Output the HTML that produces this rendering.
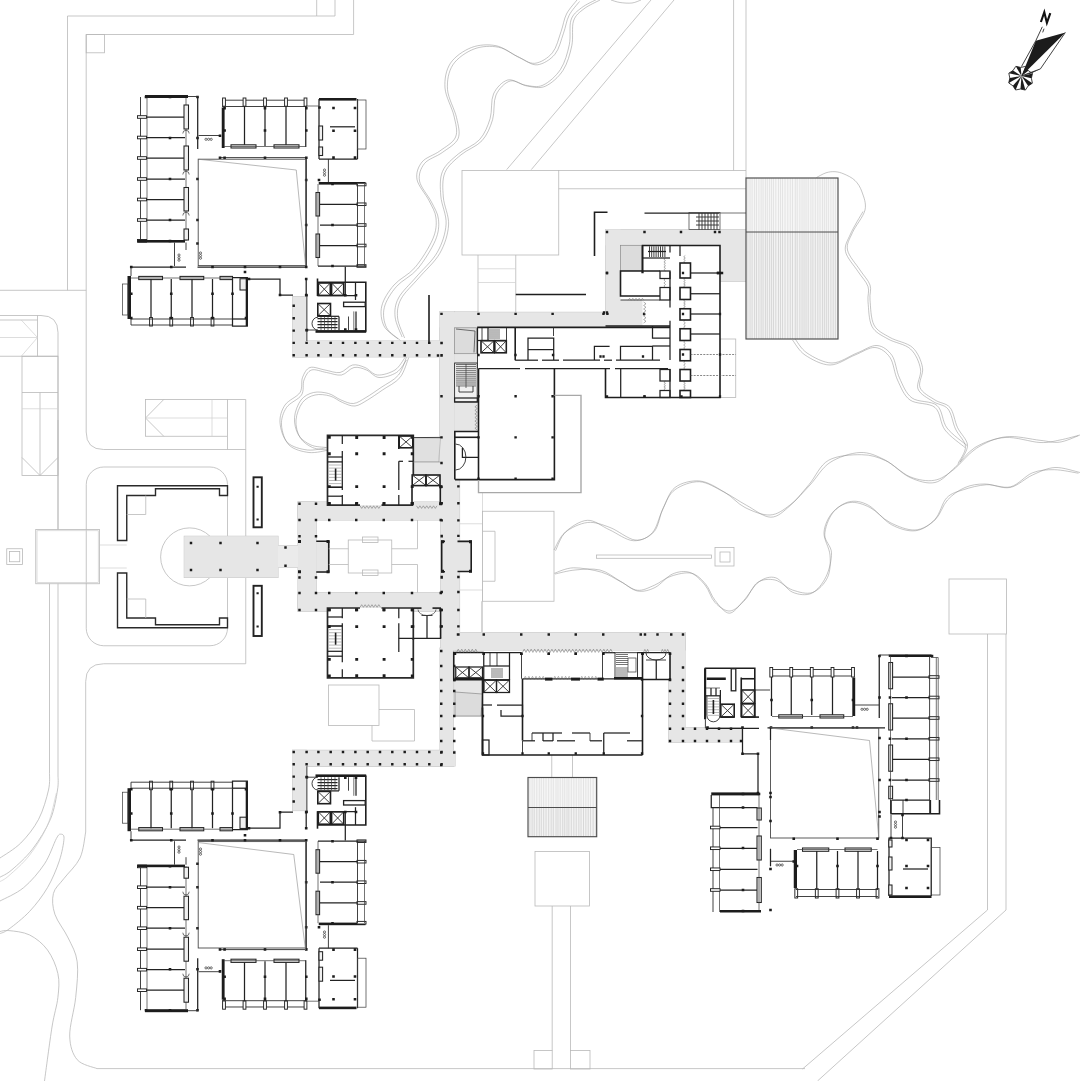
<!DOCTYPE html>
<html><head><meta charset="utf-8"><title>Plan</title><style>
html,body{margin:0;padding:0;background:#fff}
svg{display:block}
.w{stroke:#222;stroke-width:1.25;fill:none}
.w2{stroke:#1e1e1e;stroke-width:1.6;fill:none}
.w2h{stroke:#2a2a2a;stroke-width:1.7;fill:none}
.wf{stroke:#1e1e1e;stroke-width:1.6;fill:#fff}
.wf2{stroke:#2a2a2a;stroke-width:1.4;fill:#fff}
.wf3{stroke:#222;stroke-width:1.9;fill:#fff}
.wfn{stroke:none;fill:#fff}
.stf{fill:#f1f1f1;stroke:none}
.wfn0{stroke:none;fill:none}
.t{stroke:#2c2c2c;stroke-width:.9;fill:none}
.t2{stroke:#3e3e3e;stroke-width:.72;fill:none}
.t3{stroke:#8a8a8a;stroke-width:.6;fill:none}
.cy{stroke:#4a4a4a;stroke-width:.9;fill:none}
.s{stroke:#b9b9b9;stroke-width:.8;fill:none}
.s2{stroke:#cfcfcf;stroke-width:.7;fill:none}
.r{stroke:#8c8c8c;stroke-width:.5;fill:none}
.g{fill:#e6e6e6;stroke:none}
.go{fill:#e6e6e6;stroke:#c6c6c6;stroke-width:1}
.g2{fill:#ebebeb;stroke:none}
.gb{fill:#dcdcdc;stroke:#8a8a8a;stroke-width:.7}
.gb2{fill:#e0e0e0;stroke:#aaa;stroke-width:.6}
.gl{stroke:#a8a8a8;stroke-width:1.4;fill:none}
.k{fill:#1c1c1c;stroke:none}
.cab2{fill:#fff;stroke:#222;stroke-width:1.3}
.pier{fill:#fff;stroke:#222;stroke-width:.95}
.cab{fill:#f0f0f0;stroke:#222;stroke-width:1.05}
.dsh{stroke:#555;stroke-width:.7;stroke-dasharray:2 1.2;fill:none}
.zg{stroke:#6e6e6e;stroke-width:.55;fill:none}
.zz{stroke:#555;stroke-width:1.2;stroke-dasharray:1 1.6;fill:none}
.hf{fill:#f3f3f3;stroke:none}
.hw{stroke:#4c4c4c;stroke-width:1.15;fill:none}
.hf2{fill:#fff;fill-opacity:.3;stroke:none}
.h1{stroke:#d2d2d2;stroke-width:.85;fill:none}
.h2{stroke:#979797;stroke-width:.5;fill:none}
</style></head><body>
<svg width="1080" height="1081" viewBox="0 0 1080 1081">
<rect width="1080" height="1081" fill="#fff"/>
<path class="s" d="M67.5 290.3L67.5 16L316.7 16L316.7 0"/>
<path class="s" d="M316.7 16L335 16L335 0"/>
<path class="s" d="M353.6 0L353.6 34.5L86.2 34.5L86.2 432"/>
<rect class="s" x="86.2" y="34.5" width="18.3" height="18.3"/>
<path class="s" d="M0 290.3L86.2 290.3"/>
<path class="s" d="M86.2 432Q86.2 449.5 103.7 449.5L245.75 449.5"/>
<path class="s" d="M245.75 399.5L245.75 663.75"/>
<path class="s" d="M0 315.5L41 315.5Q58 315.5 58 332.5L58 529.5"/>
<path class="s" d="M0 320L37.5 320L37.5 356.25"/>
<path class="s" d="M37.5 315.5L37.5 320"/>
<path class="s" d="M0 356.25L58 356.25"/>
<path class="s2" d="M21.25 320L37.5 337.5L21.25 356.25"/>
<path class="s2" d="M0 337.5L37.5 337.5"/>
<rect class="s" x="22" y="356.25" width="36" height="119.25"/>
<path class="s" d="M40 392.5L40 475.5"/>
<path class="s" d="M22 392.5L58 392.5"/>
<path class="s2" d="M22 408.75L58 408.75"/>
<path class="s" d="M22 457.5L40 475.5L58 457.5"/>
<rect class="s" x="145.5" y="399.5" width="82" height="36.75"/>
<path class="s" d="M163.75 399.5L145.5 418L163.75 436.25"/>
<path class="s2" d="M145.5 418L227.5 418"/>
<path class="s2" d="M212 399.5L212 436.25"/>
<path class="s" d="M227.5 399.5L245.75 399.5"/>
<path class="s" d="M227.5 436.25L227.5 449.5"/>
<rect class="s" x="86.25" y="467" width="141.25" height="178.75" rx="17.5" ry="17.5"/>
<path class="s" d="M245.75 663.75L103.7 663.75Q85.7 663.75 85.7 681.5L85.7 832"/>
<rect class="s" x="35.75" y="529.5" width="63.75" height="54.25"/>
<rect class="s2" x="37" y="530.75" width="61.25" height="51.75"/>
<rect class="s" x="6.75" y="548.75" width="15.75" height="15.75"/>
<rect class="s" x="9.5" y="551.5" width="10.25" height="10.25"/>
<path class="s2" d="M100 545L126.75 545"/>
<path class="s2" d="M100 568L126.75 568"/>
<path class="s" d="M58 529.5L58 420"/>
<path class="s" d="M58 583.75L58 775"/>
<path class="s" d="M49.5 583.75L49.5 772"/>
<path class="s" d="M85.7 832C84.75 836.33 83.65 850.22 80 858C76.35 865.78 68.23 872.78 63.8 878.7C59.37 884.62 54.88 887.57 53.4 893.5C51.92 899.43 52.43 906.88 54.9 914.3C57.37 921.72 64.48 930.08 68.2 938C71.92 945.92 75.95 951.9 77.2 961.8C78.45 971.7 76.95 985.03 75.7 997.4C74.45 1009.77 69.45 1025.62 69.7 1036C69.95 1046.38 72.65 1054.27 77.2 1059.7C81.75 1065.13 93.7 1067.12 97 1068.6"/>
<path class="s" d="M97 1068.6L805 1068.6"/>
<path class="s" d="M58 775C57.92 777.5 58.77 782.62 57.5 790C56.23 797.38 54.55 809.47 50.4 819.3C46.25 829.13 39.02 840.58 32.6 849C26.18 857.42 17.33 865.1 11.9 869.8C6.47 874.5 1.98 875.97 0 877.2"/>
<path class="s" d="M49.5 772C49.33 775 50.32 782.12 48.5 790C46.68 797.88 43.22 810.47 38.6 819.3C33.98 828.13 27.23 836.55 20.8 843C14.37 849.45 3.47 855.5 0 858"/>
<path class="s2" d="M56.4 793C54.92 798.38 51.95 814.97 47.5 825.3C43.05 835.63 36.13 846.6 29.7 855C23.27 863.4 13.85 871.27 8.9 875.7C3.95 880.13 1.48 880.62 0 881.6"/>
<path class="s" d="M0 901C3.95 898.77 16.28 893.78 23.7 887.6C31.12 881.42 39.05 872.08 44.5 863.9C49.95 855.72 53.68 843.45 56.4 838.5C59.12 833.55 59.53 834.18 60.8 834.2C62.07 834.22 64.25 834.15 64 838.6C63.75 843.05 62.05 852.73 59.3 860.9C56.55 869.07 52.43 879.2 47.5 887.6C42.57 896 36.13 904.38 29.7 911.3C23.27 918.22 13.85 925.38 8.9 929.1C3.95 932.82 1.48 932.85 0 933.6"/>
<path class="s" d="M0 931.5C1.5 931.35 4.05 930.02 9 930.6C13.95 931.18 23.28 931.77 29.7 935C36.12 938.23 42.8 943.57 47.5 950C52.2 956.43 56.17 965.7 57.9 973.6C59.63 981.5 58.88 988.5 57.9 997.4C56.92 1006.3 54.23 1013.07 52 1027C49.77 1040.93 45.75 1072 44.5 1081"/>
<path class="s" d="M506.7 169.6L651 0"/>
<path class="s" d="M531.3 169.6L674 0"/>
<path class="s" d="M733.6 0L733.6 170.5"/>
<path class="s" d="M746 0L746 178"/>
<rect class="s" x="462" y="170.5" width="96.75" height="84.5"/>
<path class="s" d="M558.75 170.5L746 170.5"/>
<path class="s" d="M558.75 188.75L746 188.75"/>
<path class="s" d="M478 255L478 312.5"/>
<path class="s" d="M515.75 255L515.75 312.5"/>
<path class="s2" d="M478 268.75L515.75 268.75"/>
<path class="s2" d="M478 282.5L515.75 282.5"/>
<path class="s2" d="M458.75 523.75L482.5 523.75"/>
<path class="s2" d="M458.75 590L482.5 590"/>
<path class="s2" d="M482.5 492.5L482.5 632.5"/>
<rect class="s" x="482.5" y="511.25" width="71.5" height="90"/>
<path class="s" d="M482.5 531.25L495 531.25L495 581.25L482.5 581.25"/>
<rect class="s" x="596.5" y="555" width="115" height="3.3"/>
<rect class="s" x="715" y="547.5" width="19" height="18.5"/>
<rect class="s" x="720" y="552" width="10" height="10"/>
<rect class="s" x="949" y="579" width="57.5" height="55"/>
<path class="s" d="M987.5 634L987.5 910L802.5 1069"/>
<path class="s" d="M1006 634L1006 910L817.5 1081"/>
<rect class="s" x="535" y="851.5" width="54.5" height="54.5"/>
<path class="s" d="M552.2 906L552.2 1050.5"/>
<path class="s" d="M570.5 906L570.5 1050.5"/>
<rect class="s" x="534" y="1050.5" width="18.2" height="18.5"/>
<rect class="s" x="570.5" y="1050.5" width="19.5" height="18.5"/>
<path class="s" d="M551.75 755L551.75 777.5"/>
<path class="s" d="M572.5 755L572.5 777.5"/>
<rect class="s" x="328.5" y="685" width="50.5" height="40.5"/>
<path class="s" d="M379 709.5L414.5 709.5L414.5 741L372 741L372 725.5"/>
<path class="s" d="M481.75 601.25L481.75 632.5"/>
<rect class="s" x="720" y="339" width="15.75" height="58.5"/>
<path class="s" d="M210 536.25A29 29 0 1 0 210 577.5"/>
<path class="r" d="M1080 435C1076.67 435.83 1066.67 438.75 1060 440C1053.33 441.25 1049.17 442.92 1040 442.5C1030.83 442.08 1015.83 436.67 1005 437.5C994.17 438.33 983.33 442.5 975 447.5C966.67 452.5 961.67 461.67 955 467.5C948.33 473.33 942.5 480.83 935 482.5C927.5 484.17 918.33 481.25 910 477.5C901.67 473.75 893.33 464.17 885 460C876.67 455.83 869.17 452.08 860 452.5C850.83 452.92 838.33 457.08 830 462.5C821.67 467.92 816.67 477.92 810 485C803.33 492.08 796.67 500 790 505C783.33 510 777.5 514.58 770 515C762.5 515.42 752.5 511.25 745 507.5C737.5 503.75 732.5 496.92 725 492.5C717.5 488.08 708.33 481.83 700 481C691.67 480.17 681.25 482.67 675 487.5C668.75 492.33 666.25 502.5 662.5 510C658.75 517.5 657.08 527.5 652.5 532.5C647.92 537.5 642.08 540.83 635 540C627.92 539.17 617.92 530.42 610 527.5C602.08 524.58 595 521.67 587.5 522.5C580 523.33 570.58 527.92 565 532.5C559.42 537.08 555.83 547.08 554 550"/>
<path class="r" d="M1078.5 435.73C1075.29 436.81 1065.67 441.44 1059.25 442.2C1052.83 442.96 1048.92 441.21 1040 440.3C1031.08 439.39 1016.33 435.44 1005.75 436.77C995.17 438.09 985.21 442.74 976.5 448.23C967.79 453.72 960.54 464.36 953.5 469.7C946.46 475.04 941.5 479.12 934.25 480.3C927 481.48 918.08 480.03 910 476.77C901.92 473.51 893.83 464.41 885.75 460.73C877.67 457.06 871.04 454.77 861.5 454.7C851.96 454.63 837.21 455.37 828.5 460.3C819.79 465.23 815.67 476.69 809.25 484.27C802.83 491.84 796.42 500.24 790 505.73C783.58 511.22 778 517.27 770.75 517.2C763.5 517.13 754.38 509.54 746.5 505.3C738.62 501.06 731.38 495.69 723.5 491.77C715.62 487.84 707.33 482.08 699.25 481.73C691.17 481.39 681 485.36 675 489.7C669 494.04 666.75 500.79 663.25 507.8C659.75 514.81 658.96 526.28 654 531.77C649.04 537.26 640.96 541.08 633.5 540.73C626.04 540.39 616.92 533.11 609.25 529.7C601.58 526.29 594.75 519.96 587.5 520.3C580.25 520.64 571.08 526.69 565.75 531.77C560.42 536.84 557.21 547.57 555.5 550.73"/>
<path class="r" d="M1080 472.5C1075.83 471.67 1062.92 467.08 1055 467.5C1047.08 467.92 1040 471.67 1032.5 475C1025 478.33 1017.92 486 1010 487.5C1002.08 489 992.5 484 985 484C977.5 484 971.25 484.83 965 487.5C958.75 490.17 952.5 494.58 947.5 500C942.5 505.42 940.42 515 935 520C929.58 525 922.5 529.58 915 530C907.5 530.42 897.5 526.25 890 522.5C882.5 518.75 876.67 510.83 870 507.5C863.33 504.17 856.25 501.67 850 502.5C843.75 503.33 836.83 507.5 832.5 512.5C828.17 517.5 824.42 525.42 824 532.5C823.58 539.58 829.42 547.5 830 555C830.58 562.5 830.42 571.25 827.5 577.5C824.58 583.75 818.33 590.42 812.5 592.5C806.67 594.58 798.75 592.08 792.5 590C786.25 587.92 780.83 581.25 775 580C769.17 578.75 762.5 579.17 757.5 582.5C752.5 585.83 749.58 595.25 745 600C740.42 604.75 735 610.58 730 611C725 611.42 719.17 606.83 715 602.5C710.83 598.17 709.17 590 705 585C700.83 580 695.42 574.33 690 572.5C684.58 570.67 678.33 571.5 672.5 574C666.67 576.5 660.83 584.67 655 587.5C649.17 590.33 643.33 592.08 637.5 591C631.67 589.92 626.25 584.5 620 581C613.75 577.5 607.5 571.83 600 570C592.5 568.17 582.5 569.33 575 570C567.5 570.67 558.33 573.33 555 574"/>
<path class="r" d="M1078.5 473.23C1074.46 472.64 1061.92 469.77 1054.25 469.7C1046.58 469.63 1039.75 469.96 1032.5 472.8C1025.25 475.64 1018.42 484.78 1010.75 486.77C1003.08 488.76 994.38 484.24 986.5 484.73C978.62 485.22 970.12 487.52 963.5 489.7C956.88 491.88 951.5 492.87 946.75 497.8C942 502.73 940.17 513.78 935 519.27C929.83 524.76 923 529.83 915.75 530.73C908.5 531.64 899.38 528.94 891.5 524.7C883.62 520.46 875.54 509.12 868.5 505.3C861.46 501.48 855.25 500.44 849.25 501.77C843.25 503.09 836.58 507.74 832.5 513.23C828.42 518.72 824.92 528.11 824.75 534.7C824.58 541.29 831.29 545.79 831.5 552.8C831.71 559.81 829.29 570.03 826 576.77C822.71 583.51 817.33 590.66 811.75 593.23C806.17 595.81 798.5 594.77 792.5 592.2C786.5 589.63 781.33 579.54 775.75 577.8C770.17 576.06 764.38 577.94 759 581.77C753.62 585.59 748.46 595.49 743.5 600.73C738.54 605.97 734 613.27 729.25 613.2C724.5 613.13 718.92 605.12 715 600.3C711.08 595.48 709.67 588.78 705.75 584.27C701.83 579.76 697.29 574.58 691.5 573.23C685.71 571.89 677.21 574.19 671 576.2C664.79 578.21 659.83 582.96 654.25 585.3C648.67 587.64 643.08 590.86 637.5 590.27C631.92 589.67 626.75 584.74 620.75 581.73C614.75 578.72 609.38 574.52 601.5 572.2C593.62 569.88 581.38 567.62 573.5 567.8C565.62 567.98 557.46 572.36 554.25 573.27"/>
<path class="r" d="M792.5 340C794.58 342.5 798.75 350.83 805 355C811.25 359.17 821.67 365 830 365C838.33 365 847.5 357.92 855 355C862.5 352.08 869.17 347.08 875 347.5C880.83 347.92 886.25 352.08 890 357.5C893.75 362.92 894.17 372.92 897.5 380C900.83 387.08 903.75 395.42 910 400C916.25 404.58 929.17 402.5 935 407.5C940.83 412.5 940 423.33 945 430C950 436.67 961.67 444.58 965 447.5"/>
<path class="r" d="M816.5 177.5C818.08 176.72 822.92 173.77 826 172.8C829.08 171.83 832 171.5 835 171.7C838 171.9 840.67 172.53 844 174C847.33 175.47 852 177.5 855 180.5C858 183.5 860.33 187.08 862 192C863.67 196.92 866.58 203.25 865 210C863.42 216.75 855.42 225.83 852.5 232.5C849.58 239.17 846.25 243.75 847.5 250C848.75 256.25 856.25 264.17 860 270C863.75 275.83 868.33 280 870 285C871.67 290 869.33 293.33 870 300C870.67 306.67 870.67 318.75 874 325C877.33 331.25 883.58 333.75 890 337.5C896.42 341.25 907.08 342.5 912.5 347.5C917.92 352.5 921.25 360.83 922.5 367.5C923.75 374.17 917.92 382.08 920 387.5C922.08 392.92 930 396.67 935 400C940 403.33 946.25 402.92 950 407.5C953.75 412.08 954.58 421.25 957.5 427.5C960.42 433.75 967.08 439.25 967.5 445C967.92 450.75 961.25 459.17 960 462"/>
<path class="r" d="M794.5 338C796.58 340.5 800.75 348.83 807 353C813.25 357.17 823.67 363 832 363C840.33 363 849.5 355.92 857 353C864.5 350.08 871.17 345.08 877 345.5C882.83 345.92 888.25 350.08 892 355.5C895.75 360.92 896.17 370.92 899.5 378C902.83 385.08 905.75 393.42 912 398C918.25 402.58 931.17 400.5 937 405.5C942.83 410.5 942 421.33 947 428C952 434.67 963.67 442.58 967 445.5"/>
<path class="r" d="M863 211.5C860.92 215.25 853.42 227.33 850.5 234C847.58 240.67 844.25 245.25 845.5 251.5C846.75 257.75 854.25 265.67 858 271.5C861.75 277.33 866.33 281.5 868 286.5C869.67 291.5 867.33 294.83 868 301.5C868.67 308.17 868.67 320.25 872 326.5C875.33 332.75 881.58 335.25 888 339C894.42 342.75 905.08 344 910.5 349C915.92 354 919.25 362.33 920.5 369C921.75 375.67 915.92 383.58 918 389C920.08 394.42 928 398.17 933 401.5C938 404.83 944.25 404.42 948 409C951.75 413.58 952.58 422.75 955.5 429C958.42 435.25 965.08 440.75 965.5 446.5C965.92 452.25 959.25 460.67 958 463.5"/>
<path class="r" d="M577 0C575.25 2.33 569.17 8.72 566.5 14C563.83 19.28 563.35 25.23 561 31.7C558.65 38.17 556.77 47.53 552.4 52.8C548.03 58.07 540.67 62.72 534.8 63.3C528.93 63.88 523.67 59.23 517.2 56.3C510.73 53.37 503.62 47.17 496 45.7C488.38 44.23 479.1 44.57 471.5 47.5C463.9 50.43 454.82 56.55 450.4 63.3C445.98 70.05 444.4 79.22 445 88C445.6 96.78 452.23 107.83 454 116C455.77 124.17 457.97 131.17 455.6 137C453.23 142.83 445.4 146.83 439.8 151C434.2 155.17 425.8 157.25 422 162C418.2 166.75 415.83 173.07 417 179.5C418.17 185.93 425.83 194.18 429 200.6C432.17 207.02 435.37 211.6 436 218C436.63 224.4 436.3 230.75 432.8 239C429.3 247.25 421.47 259.83 415 267.5C408.53 275.17 399.53 278.58 394 285C388.47 291.42 383.47 299.17 381.8 306C380.13 312.83 381.3 320.5 384 326C386.7 331.5 395.67 336.83 398 339"/>
<path class="r" d="M600 0C597.33 1.47 588.42 5.3 584 8.8C579.58 12.3 575.53 14.85 573.5 21C571.47 27.15 573.55 37.47 571.8 45.7C570.05 53.93 567.4 63.65 563 70.4C558.6 77.15 551.27 83.57 545.4 86.2C539.53 88.83 533.67 87.07 527.8 86.2C521.93 85.33 515.5 79.53 510.2 81C504.9 82.47 498.93 88.57 496 95C493.07 101.43 494.93 111.98 492.6 119.6C490.27 127.22 487.27 134.83 482 140.7C476.73 146.57 467.17 149.52 461 154.8C454.83 160.08 447.95 165.37 445 172.4C442.05 179.43 442.7 188.23 443.3 197C443.9 205.77 449.18 215.62 448.6 225C448.02 234.38 444.78 244.47 439.8 253.3C434.82 262.13 425.17 270.38 418.7 278C412.23 285.62 404.52 292.33 401 299C397.48 305.67 397 311.5 397.6 318C398.2 324.5 403.43 334.67 404.6 338"/>
<path class="r" d="M579.5 1.5C577.75 3.83 571.67 10.22 569 15.5C566.33 20.78 565.85 26.73 563.5 33.2C561.15 39.67 559.27 49.03 554.9 54.3C550.53 59.57 543.17 64.22 537.3 64.8C531.43 65.38 526.17 60.73 519.7 57.8C513.23 54.87 506.12 48.67 498.5 47.2C490.88 45.73 481.6 46.07 474 49C466.4 51.93 457.32 58.05 452.9 64.8C448.48 71.55 446.9 80.72 447.5 89.5C448.1 98.28 454.73 109.33 456.5 117.5C458.27 125.67 460.47 132.67 458.1 138.5C455.73 144.33 447.9 148.33 442.3 152.5C436.7 156.67 428.3 158.75 424.5 163.5C420.7 168.25 418.33 174.57 419.5 181C420.67 187.43 428.33 195.68 431.5 202.1C434.67 208.52 437.87 213.1 438.5 219.5C439.13 225.9 438.8 232.25 435.3 240.5C431.8 248.75 423.97 261.33 417.5 269C411.03 276.67 402.03 280.08 396.5 286.5C390.97 292.92 385.97 300.67 384.3 307.5C382.63 314.33 383.8 322 386.5 327.5C389.2 333 398.17 338.33 400.5 340.5"/>
<path class="r" d="M597.5 -1C594.83 0.47 585.92 4.3 581.5 7.8C577.08 11.3 573.03 13.85 571 20C568.97 26.15 571.05 36.47 569.3 44.7C567.55 52.93 564.9 62.65 560.5 69.4C556.1 76.15 548.77 82.57 542.9 85.2C537.03 87.83 531.17 86.07 525.3 85.2C519.43 84.33 513 78.53 507.7 80C502.4 81.47 496.43 87.57 493.5 94C490.57 100.43 492.43 110.98 490.1 118.6C487.77 126.22 484.77 133.83 479.5 139.7C474.23 145.57 464.67 148.52 458.5 153.8C452.33 159.08 445.45 164.37 442.5 171.4C439.55 178.43 440.2 187.23 440.8 196C441.4 204.77 446.68 214.62 446.1 224C445.52 233.38 442.28 243.47 437.3 252.3C432.32 261.13 422.67 269.38 416.2 277C409.73 284.62 402.02 291.33 398.5 298C394.98 304.67 394.5 310.5 395.1 317C395.7 323.5 400.93 333.67 402.1 337"/>
<path class="r" d="M611 0C612.5 0.42 616.5 2 620 2.5C623.5 3 628.5 3.42 632 3C635.5 2.58 639.5 0.5 641 0"/>
<path class="r" d="M405 357.5C403.33 359.58 399.58 367.08 395 370C390.42 372.92 382.5 375.42 377.5 375C372.5 374.58 369.17 369.17 365 367.5C360.83 365.83 356.67 364.17 352.5 365C348.33 365.83 344.58 371.67 340 372.5C335.42 373.33 330 370.83 325 370C320 369.17 313.75 366.25 310 367.5C306.25 368.75 304.17 373.33 302.5 377.5C300.83 381.67 302.92 387.92 300 392.5C297.08 397.08 288.33 400 285 405C281.67 410 279.58 416.25 280 422.5C280.42 428.75 282.92 437.92 287.5 442.5C292.08 447.08 300.83 449.17 307.5 450C314.17 450.83 324.17 447.92 327.5 447.5"/>
<path class="r" d="M408.75 357.5C407.29 360.83 404.38 372.08 400 377.5C395.62 382.92 387.92 386.25 382.5 390C377.08 393.75 372.08 397.33 367.5 400C362.92 402.67 359.17 405.58 355 406C350.83 406.42 346.67 404.17 342.5 402.5C338.33 400.83 334.58 397.25 330 396C325.42 394.75 319.58 393.92 315 395C310.42 396.08 305.67 398.33 302.5 402.5C299.33 406.67 296.42 414.17 296 420C295.58 425.83 297.25 432.92 300 437.5C302.75 442.08 307.92 445.42 312.5 447.5C317.08 449.58 325 449.58 327.5 450"/>
<path class="r" d="M406.5 360C404.83 362.08 401.08 369.58 396.5 372.5C391.92 375.42 384 377.92 379 377.5C374 377.08 370.67 371.67 366.5 370C362.33 368.33 358.17 366.67 354 367.5C349.83 368.33 346.08 374.17 341.5 375C336.92 375.83 331.5 373.33 326.5 372.5C321.5 371.67 315.25 368.75 311.5 370C307.75 371.25 305.67 375.83 304 380C302.33 384.17 304.42 390.42 301.5 395C298.58 399.58 289.83 402.5 286.5 407.5C283.17 412.5 281.08 418.75 281.5 425C281.92 431.25 284.42 440.42 289 445C293.58 449.58 302.33 451.67 309 452.5C315.67 453.33 325.67 450.42 329 450"/>
<path class="r" d="M407.25 355C405.79 358.33 402.88 369.58 398.5 375C394.12 380.42 386.42 383.75 381 387.5C375.58 391.25 370.58 394.83 366 397.5C361.42 400.17 357.67 403.08 353.5 403.5C349.33 403.92 345.17 401.67 341 400C336.83 398.33 333.08 394.75 328.5 393.5C323.92 392.25 318.08 391.42 313.5 392.5C308.92 393.58 304.17 395.83 301 400C297.83 404.17 294.92 411.67 294.5 417.5C294.08 423.33 295.75 430.42 298.5 435C301.25 439.58 306.42 442.92 311 445C315.58 447.08 323.5 447.08 326 447.5"/>
<rect class="go" x="292.5" y="296.6" width="13.9" height="60.3"/>
<rect class="go" x="292.5" y="341" width="150" height="15.9"/>
<rect class="go" x="292.5" y="750.3" width="13.9" height="60.3"/>
<rect class="go" x="292.5" y="750.3" width="150" height="15.9"/>
<rect class="go" x="439.5" y="312" width="15.1" height="168"/>
<rect class="go" x="454.6" y="312" width="23.4" height="51"/>
<rect class="go" x="454.6" y="401.5" width="23.4" height="30.5"/>
<rect class="go" x="440.7" y="480" width="18.9" height="170"/>
<rect class="go" x="440" y="648" width="13.5" height="118"/>
<rect class="go" x="439.5" y="312.3" width="204.5" height="15.1"/>
<rect class="go" x="605.5" y="229.5" width="15" height="97.5"/>
<rect class="go" x="605.5" y="229.5" width="140.5" height="15.8"/>
<rect class="go" x="720" y="245" width="26" height="36.5"/>
<rect class="go" x="620.5" y="245" width="22" height="26"/>
<rect class="go" x="620" y="296" width="24" height="17"/>
<rect class="go" x="298" y="502" width="161" height="18"/>
<rect class="go" x="298" y="592.5" width="161" height="18.75"/>
<rect class="go" x="298" y="502" width="18.25" height="109.25"/>
<rect class="go" x="316.25" y="541.25" width="12.5" height="30.75"/>
<rect class="go" x="457.5" y="541.4" width="13.7" height="30.1"/>
<rect class="go" x="184.25" y="536.25" width="93.75" height="41.25"/>
<rect class="go" x="278" y="545.5" width="20" height="22"/>
<rect class="go" x="455" y="632.5" width="230" height="17.5"/>
<rect class="go" x="668.75" y="632.5" width="16.25" height="110"/>
<rect class="go" x="668.75" y="727.5" width="72.75" height="14.5"/>
<rect class="go" x="292.5" y="751" width="162.5" height="15"/>
<rect class="go" x="414" y="462" width="26.7" height="13"/>
<path class="go" d="M455 680L482.5 680L482.5 716L455 716Z"/>
<rect class="g" x="292.5" y="296.6" width="13.9" height="60.3"/>
<rect class="g" x="292.5" y="341" width="150" height="15.9"/>
<rect class="g" x="292.5" y="750.3" width="13.9" height="60.3"/>
<rect class="g" x="292.5" y="750.3" width="150" height="15.9"/>
<rect class="g" x="439.5" y="312" width="15.1" height="168"/>
<rect class="g" x="454.6" y="312" width="23.4" height="51"/>
<rect class="g" x="454.6" y="401.5" width="23.4" height="30.5"/>
<rect class="g" x="440.7" y="480" width="18.9" height="170"/>
<rect class="g" x="440" y="648" width="13.5" height="118"/>
<rect class="g" x="439.5" y="312.3" width="204.5" height="15.1"/>
<rect class="g" x="605.5" y="229.5" width="15" height="97.5"/>
<rect class="g" x="605.5" y="229.5" width="140.5" height="15.8"/>
<rect class="g" x="720" y="245" width="26" height="36.5"/>
<rect class="g" x="620.5" y="245" width="22" height="26"/>
<rect class="g" x="620" y="296" width="24" height="17"/>
<rect class="g" x="298" y="502" width="161" height="18"/>
<rect class="g" x="298" y="592.5" width="161" height="18.75"/>
<rect class="g" x="298" y="502" width="18.25" height="109.25"/>
<rect class="g" x="316.25" y="541.25" width="12.5" height="30.75"/>
<rect class="g" x="457.5" y="541.4" width="13.7" height="30.1"/>
<rect class="g" x="184.25" y="536.25" width="93.75" height="41.25"/>
<rect class="g2" x="278" y="545.5" width="20" height="22"/>
<rect class="g" x="455" y="632.5" width="230" height="17.5"/>
<rect class="g" x="668.75" y="632.5" width="16.25" height="110"/>
<rect class="g" x="668.75" y="727.5" width="72.75" height="14.5"/>
<rect class="g" x="292.5" y="751" width="162.5" height="15"/>
<path class="gb2" d="M413.5 437.6L440.5 438.5L438.6 462L413.5 462Z"/>
<rect class="g" x="414" y="462" width="26.7" height="13"/>
<path class="g" d="M455 680L482.5 680L482.5 716L455 716Z"/>
<path class="gb" d="M455 692L482.5 694L481 716L455 716Z"/>
<rect class="gb" x="454.6" y="327.8" width="21.7" height="25.9"/>
<path class="t2" d="M456 329L475 331L474 352.5"/>
<rect class="gb" x="620.5" y="245.3" width="22" height="25.7"/>
<rect class="wfn" x="477.2" y="327.4" width="192.8" height="70.1"/>
<rect class="wfn" x="454.8" y="431.5" width="23.7" height="48.1"/>
<rect class="wfn" x="642.5" y="245.5" width="77.5" height="152"/>
<rect class="wfn" x="620.5" y="271" width="39.5" height="29"/>
<rect class="wfn" x="644" y="301" width="26" height="25"/>
<rect class="wfn" x="605.5" y="326" width="64.5" height="71.5"/>
<rect class="wfn" x="482.5" y="652.5" width="160" height="102.5"/>
<rect class="wfn" x="453.75" y="652.5" width="30" height="27.5"/>
<rect class="wfn" x="642.5" y="652.5" width="27.5" height="27"/>
<rect class="wfn" x="327.5" y="435.4" width="85.8" height="69.8"/>
<rect class="wfn" x="327.5" y="608" width="85.8" height="69.8"/>
<rect class="hf" x="746" y="178" width="92" height="161"/>
<path class="h1" d="M747.88 178V339M750.06 178V339M752.09 178V339M754.58 178V339M756.53 178V339M758.91 178V339M761.13 178V339M763.07 178V339M765.43 178V339M767.34 178V339M769.63 178V339M771.57 178V339M773.54 178V339M775.82 178V339M778.48 178V339M780.47 178V339M782.56 178V339M785.03 178V339M787.8 178V339M790.22 178V339M792.48 178V339M795.28 178V339M797.2 178V339M799.89 178V339M802.04 178V339M804.05 178V339M806.04 178V339M808.21 178V339M810.86 178V339M812.91 178V339M815.34 178V339M817.82 178V339M820.05 178V339M822.44 178V339M824.38 178V339M826.32 178V339M828.39 178V339M830.91 178V339M833.19 178V339M835.37 178V339"/>
<rect class="hf2" x="746" y="178" width="92" height="54"/>
<rect class="hw" x="746" y="178" width="92" height="161"/>
<path class="hw" d="M746 232L838 232"/>
<rect class="hf" x="528" y="777.5" width="68.7" height="59.2"/>
<path class="h1" d="M529.84 777.5V836.7M532.1 777.5V836.7M534.21 777.5V836.7M536.78 777.5V836.7M539.27 777.5V836.7M541.33 777.5V836.7M543.7 777.5V836.7M546.02 777.5V836.7M548.67 777.5V836.7M551.18 777.5V836.7M553.28 777.5V836.7M556.03 777.5V836.7M557.97 777.5V836.7M560.2 777.5V836.7M562.74 777.5V836.7M564.72 777.5V836.7M567.01 777.5V836.7M568.88 777.5V836.7M571.34 777.5V836.7M573.88 777.5V836.7M576.25 777.5V836.7M578.89 777.5V836.7M581.02 777.5V836.7M583.5 777.5V836.7M585.89 777.5V836.7M588.26 777.5V836.7M590.52 777.5V836.7M593.13 777.5V836.7M595.84 777.5V836.7"/>
<rect class="hf2" x="528" y="777.5" width="68.7" height="30"/>
<rect class="hw" x="528" y="777.5" width="68.7" height="59.2"/>
<path class="hw" d="M528 807.5L596.7 807.5"/>
<rect class="stf" x="454.6" y="363" width="22.6" height="38.9"/>
<path class="w2" d="M477.2 327.4L670 327.4"/>
<path class="w" d="M477.5 327.4L477.5 354"/>
<rect class="w2" x="481" y="340.7" width="13" height="12.1"/>
<rect class="w2" x="494.8" y="340.7" width="11.5" height="12.1"/>
<path class="t" d="M481 340.7L494 352.8"/>
<path class="t" d="M494 340.7L481 352.8"/>
<path class="t" d="M494.8 340.7L506.3 352.8"/>
<path class="t" d="M506.3 340.7L494.8 352.8"/>
<path class="t" d="M482 328L482 340"/>
<path class="w" d="M488 328L488 340"/>
<path class="t" d="M506.5 328L506.5 340"/>
<path class="w" d="M477.5 340.5L507 340.5"/>
<path class="t2" d="M489 330L500 330"/>
<path class="t2" d="M489 332L500 332"/>
<path class="t2" d="M489 334L500 334"/>
<path class="t2" d="M489 336L500 336"/>
<path class="t2" d="M489 338L500 338"/>
<path class="w2" d="M515.2 327.4L515.2 360.2"/>
<path class="w" d="M528 360L528 338L553.7 338L553.7 360"/>
<path class="w" d="M528 349.6L553.7 349.6"/>
<path class="t" d="M553.5 327.5L553.5 336"/>
<path class="w" d="M594.4 360L594.4 346.3L609.6 346.3"/>
<path class="w" d="M620.5 360L620.5 346.3L652.5 346.3L652.5 360"/>
<path class="w" d="M515.2 360.2L538 360.2"/>
<path class="w" d="M542 360.2L559 360.2"/>
<path class="w" d="M563 360.2L600 360.2"/>
<path class="w" d="M604 360.2L612 360.2"/>
<path class="w" d="M616 360.2L660 360.2"/>
<path class="w" d="M478.5 368.6L520 368.6"/>
<path class="w" d="M525 368.6L610 368.6"/>
<path class="w" d="M615 368.6L668 368.6"/>
<path class="t" d="M477.5 354L477.5 368.6"/>
<path class="k" d="M477.35 353.85h2.3v2.3h-2.3zM514.35 353.85h2.3v2.3h-2.3zM551.85 353.85h2.3v2.3h-2.3zM599.35 355.35h2.3v2.3h-2.3zM602.35 355.35h2.3v2.3h-2.3zM641.85 355.35h2.3v2.3h-2.3z"/>
<path class="w2" d="M478.5 368.5L478.5 479.6"/>
<path class="w2" d="M455 479.6L554.4 479.6L554.4 368.5"/>
<path class="k" d="M477.3 395.1h2.4v2.4h-2.4zM514.4 395.1h2.4v2.4h-2.4zM551.4 395.1h2.4v2.4h-2.4zM477.3 436.2h2.4v2.4h-2.4zM514.4 436.2h2.4v2.4h-2.4zM551.4 436.2h2.4v2.4h-2.4zM477.3 477.5h2.4v2.4h-2.4zM514.4 477.5h2.4v2.4h-2.4zM551.4 477.5h2.4v2.4h-2.4z"/>
<path class="gl" d="M554.4 395.4L581 395.4L581 492.6L478.5 492.6L478.5 480"/>
<rect class="t" x="454.6" y="363" width="22.6" height="38.9"/>
<path class="t2" d="M456 364.5L476 364.5"/>
<path class="t2" d="M456 366.45L476 366.45"/>
<path class="t2" d="M456 368.4L476 368.4"/>
<path class="t2" d="M456 370.35L476 370.35"/>
<path class="t2" d="M456 372.3L476 372.3"/>
<path class="t2" d="M456 374.25L476 374.25"/>
<path class="t2" d="M456 376.2L476 376.2"/>
<path class="t2" d="M456 378.15L476 378.15"/>
<path class="t2" d="M456 380.1L476 380.1"/>
<path class="t2" d="M456 382.05L476 382.05"/>
<path class="t2" d="M456 384L476 384"/>
<path class="t2" d="M456 385.95L476 385.95"/>
<path class="t2" d="M466 364L466 388"/>
<path class="t" d="M459 386L459 392L473 392L473 386"/>
<rect class="w" x="454.6" y="398" width="22.9" height="4"/>
<path class="zg" d="M477.3 405L474.9 406.79L477.3 408.57L474.9 410.36L477.3 412.14L474.9 413.93L477.3 415.71L474.9 417.5L477.3 419.29L474.9 421.07L477.3 422.86L474.9 424.64L477.3 426.43L474.9 428.21L477.3 430"/>
<path class="w2" d="M478.5 431.5L454.8 431.5L454.8 479.6"/>
<path class="w2" d="M454.8 437.3L478.5 437.3"/>
<path class="w" d="M462.4 448L462.4 457.4L478.5 457.4"/>
<path class="t" d="M455.5 444A8 10 0 0 1 455.5 470"/>
<path class="w2" d="M605.5 369L605.5 397.5L670 397.5"/>
<path class="w" d="M620.7 369L620.7 397.5"/>
<path class="k" d="M605.85 395.35h2.3v2.3h-2.3zM643.35 395.35h2.3v2.3h-2.3z"/>
<path class="w2" d="M642.5 271L642.5 245.5L720 245.5L720 397.5L670 397.5"/>
<path class="w" d="M670 245.5L670 252.5"/>
<path class="w" d="M670 271.6L670 307.4"/>
<path class="w" d="M670 320.7L670 360"/>
<path class="w" d="M670 369L670 397.5"/>
<path class="zg" d="M685.3 255.5L683.7 256.75L685.3 258L683.7 259.25L685.3 260.5L683.7 261.75L685.3 263"/>
<path class="zg" d="M685.3 278L683.7 279.19L685.3 280.38L683.7 281.56L685.3 282.75L683.7 283.94L685.3 285.12L683.7 286.31L685.3 287.5"/>
<path class="zg" d="M685.3 299.5L683.7 300.66L685.3 301.81L683.7 302.97L685.3 304.12L683.7 305.28L685.3 306.44L683.7 307.59L685.3 308.75"/>
<path class="zg" d="M685.3 320L683.7 321.46L685.3 322.92L683.7 324.38L685.3 325.83L683.7 327.29L685.3 328.75"/>
<path class="zg" d="M685.3 340.5L683.7 342L685.3 343.5L683.7 345L685.3 346.5L683.7 348L685.3 349.5"/>
<path class="zg" d="M685.3 360.75L683.7 362.21L685.3 363.67L683.7 365.12L685.3 366.58L683.7 368.04L685.3 369.5"/>
<path class="zg" d="M685.3 381L683.7 382.19L685.3 383.38L683.7 384.56L685.3 385.75L683.7 386.94L685.3 388.12L683.7 389.31L685.3 390.5"/>
<path class="zg" d="M665.5 278.5L663.9 280L665.5 281.5L663.9 283L665.5 284.5L663.9 286L665.5 287.5"/>
<path class="zg" d="M665.5 381L663.9 382.19L665.5 383.38L663.9 384.56L665.5 385.75L663.9 386.94L665.5 388.12L663.9 389.31L665.5 390.5"/>
<path class="zg" d="M665.5 258L663.9 259.3L665.5 260.6L663.9 261.9L665.5 263.2L663.9 264.5L665.5 265.8L663.9 267.1L665.5 268.4L663.9 269.7L665.5 271"/>
<rect class="w2" x="680" y="263" width="10.5" height="15"/>
<rect class="w2" x="680" y="287.5" width="10.5" height="12"/>
<rect class="w2" x="680" y="308.75" width="10.5" height="11.25"/>
<rect class="w2" x="680" y="328.75" width="10.5" height="11.75"/>
<rect class="w2" x="680" y="349.5" width="10.5" height="11.25"/>
<rect class="w2" x="680" y="369.5" width="10.5" height="11.5"/>
<rect class="w2" x="680" y="390.5" width="10.5" height="7"/>
<rect class="w" x="660" y="271" width="10" height="7.5"/>
<rect class="w" x="660" y="287.5" width="10" height="12.5"/>
<rect class="w" x="660" y="369.5" width="10" height="11.5"/>
<rect class="w" x="660" y="390.5" width="10" height="7"/>
<path class="w" d="M690.5 273L720 273"/>
<path class="w" d="M690.5 293.75L720 293.75"/>
<path class="w" d="M690.5 314L720 314"/>
<path class="w" d="M690.5 334L720 334"/>
<path class="dsh" d="M690.5 354.5L735.75 354.5"/>
<path class="dsh" d="M690.5 375.5L735.75 375.5"/>
<path class="w" d="M680 245.5L680 256"/>
<path class="w" d="M642.5 258L670 258"/>
<path class="t" d="M649.5 246.3L649.5 257"/>
<path class="t" d="M651.7 246.3L651.7 257"/>
<path class="t" d="M653.9 246.3L653.9 257"/>
<path class="t" d="M656.1 246.3L656.1 257"/>
<path class="t" d="M658.3 246.3L658.3 257"/>
<path class="t" d="M660.5 246.3L660.5 257"/>
<path class="t" d="M662.7 246.3L662.7 257"/>
<path class="t" d="M664.9 246.3L664.9 257"/>
<path class="w" d="M648 251.5L666 251.5"/>
<path class="w2" d="M642.5 245.5L642.5 271"/>
<path class="w2" d="M660 271L620.5 271L620.5 296L660 296"/>
<path class="t" d="M620.5 300L660 300"/>
<path class="w2" d="M605.5 326L670 326"/>
<path class="w" d="M652.5 326L652.5 338L670 338"/>
<path class="w" d="M652.5 346L670 346"/>
<path class="k" d="M641.35 270.85h2.3v2.3h-2.3zM718.85 271.85h2.3v2.3h-2.3zM716.85 271.85h2.3v2.3h-2.3zM718.85 312.85h2.3v2.3h-2.3zM718.85 353.35h2.3v2.3h-2.3zM718.85 395.35h2.3v2.3h-2.3zM680.35 395.35h2.3v2.3h-2.3zM643.35 395.35h2.3v2.3h-2.3zM681.85 271.85h2.3v2.3h-2.3zM681.85 312.85h2.3v2.3h-2.3zM681.85 353.35h2.3v2.3h-2.3zM642.85 312.85h2.3v2.3h-2.3zM605.85 311.35h2.3v2.3h-2.3zM602.85 311.35h2.3v2.3h-2.3zM605.85 271.85h2.3v2.3h-2.3z"/>
<path class="zg" d="M643.6 302L646 303.75L643.6 305.5L646 307.25L643.6 309L646 310.75L643.6 312.5L646 314.25L643.6 316L646 317.75L643.6 319.5L646 321.25L643.6 323"/>
<path class="zg" d="M628 300.3L629.6 298.3L631.2 300.3L632.8 298.3L634.4 300.3L636 298.3L637.6 300.3L639.2 298.3L640.8 300.3L642.4 298.3L644 300.3"/>
<path class="w" d="M644.5 213L719 213"/>
<path class="t2" d="M719 213L746 213"/>
<rect class="t2" x="689" y="212.5" width="31" height="17"/>
<path class="t" d="M699 213L699 229.5"/>
<path class="t" d="M702 213L702 229.5"/>
<path class="t" d="M705 213L705 229.5"/>
<path class="t" d="M708 213L708 229.5"/>
<path class="t" d="M711 213L711 229.5"/>
<path class="t" d="M714 213L714 229.5"/>
<path class="t" d="M717 213L717 229.5"/>
<path class="t" d="M696 217L719 217"/>
<path class="t" d="M696 221L719 221"/>
<path class="t" d="M696 225L719 225"/>
<path class="w2" d="M594.5 256L594.5 212.3L607.5 212.3"/>
<path class="w2" d="M515.75 294.5L586 294.5"/>
<path class="w2" d="M429 295L429 344"/>
<rect class="wfn0" x="453.75" y="652.5" width="216.25" height="102.5"/>
<path class="w2" d="M453.75 680L453.75 652.5L483.75 652.5"/>
<rect class="w" x="455.75" y="667" width="13.25" height="11"/>
<path class="t" d="M455.75 667L469 678M469 667L455.75 678"/>
<rect class="w" x="469" y="667" width="13.5" height="11"/>
<path class="t" d="M469 667L482.5 678M482.5 667L469 678"/>
<rect class="k" x="454.5" y="677.5" width="29.5" height="3"/>
<path class="w" d="M483.75 652.5L483.75 693"/>
<path class="t" d="M490 652.5L490 666"/>
<path class="t" d="M497 652.5L497 666"/>
<path class="w" d="M509.5 652.5L509.5 680"/>
<path class="w" d="M483.75 666L509.5 666"/>
<path class="t2" d="M491 669L503 669"/>
<path class="t2" d="M491 671L503 671"/>
<path class="t2" d="M491 673L503 673"/>
<path class="t2" d="M491 675L503 675"/>
<path class="t2" d="M491 677L503 677"/>
<rect class="w" x="483.75" y="680" width="12.75" height="12.5"/>
<path class="t" d="M483.75 680L496.5 692.5M496.5 680L483.75 692.5"/>
<rect class="w" x="496.5" y="680" width="13" height="12.5"/>
<path class="t" d="M496.5 680L509.5 692.5M509.5 680L496.5 692.5"/>
<path class="w2" d="M483.75 680L509.5 680"/>
<path class="w" d="M483.75 652.7L521 652.7"/>
<path class="w" d="M603 652.7L615 652.7"/>
<path class="w" d="M637 652.7L670 652.7"/>
<path class="w2" d="M522.5 678.75L522.5 740.5"/>
<path class="w" d="M522.5 678.75L642.5 678.75"/>
<path class="t" d="M521.5 652.7L521.5 678.75"/>
<path class="t" d="M602.5 652.7L602.5 678.75"/>
<path class="w2" d="M642.5 652.5L642.5 755"/>
<path class="w2" d="M482.5 707.5L482.5 755L642.5 755"/>
<path class="w" d="M522.5 740.8L535 740.8"/>
<path class="w" d="M543 740.8L553 740.8"/>
<path class="w" d="M557 740.8L575 740.8"/>
<path class="w" d="M590 740.8L602 740.8"/>
<path class="w" d="M627 740.8L642.5 740.8"/>
<path class="w" d="M532 733L562 733"/>
<path class="w" d="M572 733L590 733"/>
<path class="w" d="M603.75 733L630 733"/>
<path class="w" d="M543 733L543 741"/>
<path class="w" d="M553 733L553 741"/>
<path class="w" d="M603.75 733L603.75 755"/>
<path class="t" d="M532 733L532 741"/>
<path class="t" d="M590 733L590 741"/>
<rect class="w" x="482.5" y="740" width="6.5" height="15"/>
<path class="t" d="M522.5 740.8L522.5 755"/>
<path class="w" d="M497 705L522.5 705L522.5 716L501 716L501 710"/>
<path class="w" d="M483 705L492 705"/>
<rect class="t" x="615" y="652.7" width="22.5" height="25.3"/>
<path class="t2" d="M616 654.5L628 654.5"/>
<path class="t2" d="M616 656.5L628 656.5"/>
<path class="t2" d="M616 658.5L628 658.5"/>
<path class="t2" d="M616 660.5L628 660.5"/>
<path class="t2" d="M616 662.5L628 662.5"/>
<path class="t2" d="M616 664.5L628 664.5"/>
<path class="t2" d="M616 668L628 668"/>
<path class="t2" d="M616 670L628 670"/>
<path class="t2" d="M616 672L628 672"/>
<path class="t2" d="M616 674L628 674"/>
<path class="t2" d="M616 676L628 676"/>
<rect class="t2" x="628" y="658" width="8" height="14"/>
<rect class="k" x="614" y="677" width="29" height="2.5"/>
<path class="w2" d="M642.5 679.5L670 679.5L670 652.7"/>
<path class="w" d="M656.25 660L656.25 679.5"/>
<path class="t" d="M646 653A10 7 0 0 0 666 653"/>
<path class="t" d="M646 660L666 660"/>
<path class="k" d="M482.6 652.6h2.3v2.3h-2.3zM520.35 652.6h2.3v2.3h-2.3zM547.6 652.6h2.3v2.3h-2.3zM574.6 652.6h2.3v2.3h-2.3zM602.1 652.6h2.3v2.3h-2.3zM641.35 652.6h2.3v2.3h-2.3zM668.85 652.6h2.3v2.3h-2.3zM453.35 678.85h2.3v2.3h-2.3zM481.85 714.85h2.3v2.3h-2.3zM481.85 752.35h2.3v2.3h-2.3zM521.35 752.35h2.3v2.3h-2.3zM547.6 752.35h2.3v2.3h-2.3zM574.6 752.35h2.3v2.3h-2.3zM602.6 752.35h2.3v2.3h-2.3zM640.85 752.35h2.3v2.3h-2.3zM640.85 714.85h2.3v2.3h-2.3zM640.85 678.35h2.3v2.3h-2.3zM521.35 714.85h2.3v2.3h-2.3zM668.85 678.35h2.3v2.3h-2.3z"/>
<rect class="k" x="545" y="677.6" width="7.5" height="3"/>
<rect class="k" x="571" y="677.6" width="9" height="3"/>
<rect class="k" x="597.5" y="677.6" width="6.25" height="3"/>
<path class="zg" d="M456.5 652.4L458.25 649.2L460 652.4L461.75 649.2L463.5 652.4L465.25 649.2L467 652.4L468.75 649.2L470.5 652.4L472.25 649.2L474 652.4L475.75 649.2L477.5 652.4"/>
<path class="zg" d="M522.5 652.4L524.23 649.2L525.96 652.4L527.69 649.2L529.42 652.4L531.15 649.2L532.88 652.4L534.62 649.2L536.35 652.4L538.08 649.2L539.81 652.4L541.54 649.2L543.27 652.4L545 649.2L546.73 652.4L548.46 649.2L550.19 652.4L551.92 649.2L553.65 652.4L555.38 649.2L557.12 652.4L558.85 649.2L560.58 652.4L562.31 649.2L564.04 652.4L565.77 649.2L567.5 652.4L569.23 649.2L570.96 652.4L572.69 649.2L574.42 652.4L576.15 649.2L577.88 652.4L579.62 649.2L581.35 652.4L583.08 649.2L584.81 652.4L586.54 649.2L588.27 652.4L590 649.2L591.73 652.4L593.46 649.2L595.19 652.4L596.92 649.2L598.65 652.4L600.38 649.2L602.12 652.4L603.85 649.2L605.58 652.4L607.31 649.2L609.04 652.4L610.77 649.2L612.5 652.4"/>
<path class="zg" d="M523.5 679.6L525.29 676.4L527.08 679.6L528.88 676.4L530.67 679.6L532.46 676.4L534.25 679.6L536.04 676.4L537.83 679.6L539.62 676.4L541.42 679.6L543.21 676.4L545 679.6"/>
<path class="zg" d="M553 679.6L554.8 676.4L556.6 679.6L558.4 676.4L560.2 679.6L562 676.4L563.8 679.6L565.6 676.4L567.4 679.6L569.2 676.4L571 679.6"/>
<path class="zg" d="M580 679.6L581.75 676.4L583.5 679.6L585.25 676.4L587 679.6L588.75 676.4L590.5 679.6L592.25 676.4L594 679.6L595.75 676.4L597.5 679.6"/>
<path class="zg" d="M643.5 652.4L644.88 649.4L646.25 652.4L647.62 649.4L649 652.4"/>
<path class="zg" d="M661 652.4L662.33 649.4L663.67 652.4L665 649.4L666.33 652.4L667.67 649.4L669 652.4"/>
<path class="w2" d="M482.5 680L482.5 755"/>
<path class="w2h" d="M360 505.2L327.5 505.2L327.5 435.4L413.3 435.4L413.3 475"/>
<path class="w2h" d="M381.5 505.2L413.3 505.2"/>
<path class="w" d="M342.3 435.4L342.3 444"/>
<path class="w" d="M342.3 451L342.3 490"/>
<path class="w" d="M342.3 495L342.3 505.2"/>
<path class="w" d="M327.5 457L342.3 457"/>
<path class="w" d="M327.5 461.9L342.3 461.9"/>
<path class="w2" d="M327.5 487.2L342.3 487.2"/>
<path class="w" d="M327.5 496.2L342.3 496.2"/>
<path class="t3" d="M329 465L341.5 465"/>
<path class="t3" d="M329 468.1L341.5 468.1"/>
<path class="t3" d="M329 471.2L341.5 471.2"/>
<path class="t3" d="M329 474.3L341.5 474.3"/>
<path class="t3" d="M329 477.4L341.5 477.4"/>
<path class="t3" d="M329 480.5L341.5 480.5"/>
<path class="t3" d="M329 483.6L341.5 483.6"/>
<path class="w2" d="M335.6 468.5L335.6 480.5"/>
<path class="w" d="M398.8 461.3L398.8 490"/>
<path class="w" d="M398.8 495L398.8 505.2"/>
<path class="k" d="M355.25 436.05h2.9v2.9h-2.9zM355.25 452.35h2.9v2.9h-2.9zM355.25 485.15h2.9v2.9h-2.9zM355.25 501.95h2.9v2.9h-2.9zM382.65 436.05h2.9v2.9h-2.9zM382.65 452.35h2.9v2.9h-2.9zM382.65 485.15h2.9v2.9h-2.9zM382.65 501.95h2.9v2.9h-2.9zM327.85 452.35h2.9v2.9h-2.9zM327.85 485.15h2.9v2.9h-2.9zM410.75 452.35h2.9v2.9h-2.9zM410.75 485.15h2.9v2.9h-2.9zM327.85 435.85h2.9v2.9h-2.9zM327.85 501.95h2.9v2.9h-2.9zM410.85 435.85h2.9v2.9h-2.9zM410.85 501.95h2.9v2.9h-2.9z"/>
<path class="w2h" d="M360 608L327.5 608L327.5 677.8L413.3 677.8L413.3 638.2"/>
<path class="w2h" d="M381.5 608L413.3 608"/>
<path class="w" d="M342.3 677.8L342.3 669.2"/>
<path class="w" d="M342.3 662.2L342.3 623.2"/>
<path class="w" d="M342.3 618.2L342.3 608"/>
<path class="w" d="M327.5 656.2L342.3 656.2"/>
<path class="w" d="M327.5 651.3L342.3 651.3"/>
<path class="w2" d="M327.5 626L342.3 626"/>
<path class="w" d="M327.5 617L342.3 617"/>
<path class="t3" d="M329 648.2L341.5 648.2"/>
<path class="t3" d="M329 645.1L341.5 645.1"/>
<path class="t3" d="M329 642L341.5 642"/>
<path class="t3" d="M329 638.9L341.5 638.9"/>
<path class="t3" d="M329 635.8L341.5 635.8"/>
<path class="t3" d="M329 632.7L341.5 632.7"/>
<path class="t3" d="M329 629.6L341.5 629.6"/>
<path class="w2" d="M335.6 644.7L335.6 632.7"/>
<path class="w" d="M398.8 651.9L398.8 623.2"/>
<path class="w" d="M398.8 618.2L398.8 608"/>
<path class="k" d="M355.25 674.25h2.9v2.9h-2.9zM355.25 657.95h2.9v2.9h-2.9zM355.25 625.15h2.9v2.9h-2.9zM355.25 608.35h2.9v2.9h-2.9zM382.65 674.25h2.9v2.9h-2.9zM382.65 657.95h2.9v2.9h-2.9zM382.65 625.15h2.9v2.9h-2.9zM382.65 608.35h2.9v2.9h-2.9zM327.85 657.95h2.9v2.9h-2.9zM327.85 625.15h2.9v2.9h-2.9zM410.75 657.95h2.9v2.9h-2.9zM410.75 625.15h2.9v2.9h-2.9zM327.85 674.45h2.9v2.9h-2.9zM327.85 608.35h2.9v2.9h-2.9zM410.85 674.45h2.9v2.9h-2.9zM410.85 608.35h2.9v2.9h-2.9z"/>
<rect class="w2" x="399.2" y="436" width="13.6" height="11.8"/>
<path class="t" d="M399.2 436L412.8 447.8M412.8 436L399.2 447.8"/>
<path class="w2" d="M398.8 435.4L398.8 449"/>
<path class="w" d="M398.8 461.3L403 461.3"/>
<path class="w" d="M408.5 461.3L413.3 461.3"/>
<rect class="w2" x="412.2" y="475" width="13.8" height="10.6"/>
<path class="t" d="M412.2 475L426 485.6M426 475L412.2 485.6"/>
<rect class="w2" x="426" y="475" width="14" height="10.6"/>
<path class="t" d="M426 475L440 485.6M440 475L426 485.6"/>
<path class="w2" d="M412 485.6L412 505"/>
<path class="w2" d="M440.3 485.6L440.3 505"/>
<path class="k" d="M439.3 485.25h2.9v2.9h-2.9zM439.3 502.3h2.9v2.9h-2.9zM410.75 501.95h2.9v2.9h-2.9z"/>
<path class="t" d="M413.3 437.6L441 437.4"/>
<path class="t3" d="M413.3 462L440 462"/>
<path class="zg" d="M360 505.8L361.71 508.4L363.42 505.8L365.12 508.4L366.83 505.8L368.54 508.4L370.25 505.8L371.96 508.4L373.67 505.8L375.38 508.4L377.08 505.8L378.79 508.4L380.5 505.8"/>
<path class="zg" d="M416.5 505.8L418.21 508.4L419.92 505.8L421.62 508.4L423.33 505.8L425.04 508.4L426.75 505.8L428.46 508.4L430.17 505.8L431.88 508.4L433.58 505.8L435.29 508.4L437 505.8"/>
<path class="zg" d="M360 607.3L361.71 604.7L363.42 607.3L365.12 604.7L366.83 607.3L368.54 604.7L370.25 607.3L371.96 604.7L373.67 607.3L375.38 604.7L377.08 607.3L378.79 604.7L380.5 607.3"/>
<path class="w2h" d="M413.3 607.8L413.3 640"/>
<path class="w" d="M398.75 638.25L441.25 638.25"/>
<path class="w2" d="M413.3 608.1L421.5 608.1"/>
<path class="w2" d="M432.5 608.1L441 608.1"/>
<path class="w2" d="M440.6 608.1L440.6 638.25"/>
<path class="w" d="M427 615.5L427 638.25"/>
<path class="t2" d="M418 609.5A9 6 0 0 0 436 609.5"/>
<path class="t" d="M421.5 615.5L432.5 615.5"/>
<path class="k" d="M439.7 608.7h2.6v2.6h-2.6zM439.7 625.2h2.6v2.6h-2.6zM411.7 625.2h2.6v2.6h-2.6z"/>
<path class="wf2" d="M117.5 485.75L227.5 485.75L227.5 495.5L219.5 495.5L219.5 488.75L155.5 488.75L155.5 495.5L126.75 495.5L126.75 540.5L117.5 540.5Z"/>
<path class="wf2" d="M117.5 627.75L227.5 627.75L227.5 618L219.5 618L219.5 624.75L155.5 624.75L155.5 618L126.75 618L126.75 573L117.5 573Z"/>
<path class="s" d="M145.75 495.5L145.75 514.5L126.75 514.5"/>
<path class="s" d="M145.75 618L145.75 599L126.75 599"/>
<rect class="wf3" x="253.5" y="477.3" width="8.3" height="50"/>
<rect class="wf3" x="253.5" y="585.8" width="8.3" height="50.2"/>
<path class="k" d="M256.5 485.65h2.2v2.2h-2.2zM256.5 518.4h2.2v2.2h-2.2zM256.5 592.15h2.2v2.2h-2.2zM256.5 625.4h2.2v2.2h-2.2z"/>
<path class="w2" d="M316.25 541.25L328.75 541.25L328.75 572L316.25 572"/>
<path class="w2" d="M445 541.4L441.7 541.4L441.7 571.7L445 571.7"/>
<path class="w2" d="M457.5 541.4L471.2 541.4L471.2 571.5L457.5 571.5"/>
<path class="k" d="M298 540h3v3h-3zM298 570.2h3v3h-3zM326.5 540h3v3h-3zM326.5 570.2h3v3h-3zM441 540.2h3v3h-3zM441 569.8h3v3h-3zM469 540.2h3v3h-3zM469 569.8h3v3h-3z"/>
<rect class="s" x="348.25" y="540" width="43.5" height="33"/>
<rect class="s" x="362.5" y="537" width="15.5" height="5.5"/>
<rect class="s" x="362.5" y="570" width="15.5" height="5.5"/>
<path class="s" d="M328.75 548.75L348.25 548.75"/>
<path class="s" d="M328.75 564.5L348.25 564.5"/>
<path class="s" d="M391.75 548.75L417.5 548.75L417.5 520"/>
<path class="s" d="M391.75 564.5L417.5 564.5L417.5 592.5"/>
<path class="k" d="M292.47 341.67h2.45v2.45h-2.45zM292.47 353.97h2.45v2.45h-2.45zM305.38 341.67h2.45v2.45h-2.45zM305.38 353.97h2.45v2.45h-2.45zM317.17 341.67h2.45v2.45h-2.45zM317.17 353.97h2.45v2.45h-2.45zM329.47 341.67h2.45v2.45h-2.45zM329.47 353.97h2.45v2.45h-2.45zM341.77 341.67h2.45v2.45h-2.45zM341.77 353.97h2.45v2.45h-2.45zM354.17 341.67h2.45v2.45h-2.45zM354.17 353.97h2.45v2.45h-2.45zM366.47 341.67h2.45v2.45h-2.45zM366.47 353.97h2.45v2.45h-2.45zM378.77 341.67h2.45v2.45h-2.45zM378.77 353.97h2.45v2.45h-2.45zM391.07 341.67h2.45v2.45h-2.45zM391.07 353.97h2.45v2.45h-2.45zM403.47 341.67h2.45v2.45h-2.45zM403.47 353.97h2.45v2.45h-2.45zM415.77 341.67h2.45v2.45h-2.45zM415.77 353.97h2.45v2.45h-2.45zM428.07 341.67h2.45v2.45h-2.45zM428.07 353.97h2.45v2.45h-2.45zM440.38 341.67h2.45v2.45h-2.45zM440.38 353.97h2.45v2.45h-2.45zM292.47 304.57h2.45v2.45h-2.45zM292.47 317.07h2.45v2.45h-2.45zM292.47 329.38h2.45v2.45h-2.45zM305.38 294.17h2.45v2.45h-2.45zM305.38 328.97h2.45v2.45h-2.45zM292.47 763.08h2.45v2.45h-2.45zM292.47 750.77h2.45v2.45h-2.45zM305.38 763.08h2.45v2.45h-2.45zM305.38 750.77h2.45v2.45h-2.45zM317.17 763.08h2.45v2.45h-2.45zM317.17 750.77h2.45v2.45h-2.45zM329.47 763.08h2.45v2.45h-2.45zM329.47 750.77h2.45v2.45h-2.45zM341.77 763.08h2.45v2.45h-2.45zM341.77 750.77h2.45v2.45h-2.45zM354.17 763.08h2.45v2.45h-2.45zM354.17 750.77h2.45v2.45h-2.45zM366.47 763.08h2.45v2.45h-2.45zM366.47 750.77h2.45v2.45h-2.45zM378.77 763.08h2.45v2.45h-2.45zM378.77 750.77h2.45v2.45h-2.45zM391.07 763.08h2.45v2.45h-2.45zM391.07 750.77h2.45v2.45h-2.45zM403.47 763.08h2.45v2.45h-2.45zM403.47 750.77h2.45v2.45h-2.45zM415.77 763.08h2.45v2.45h-2.45zM415.77 750.77h2.45v2.45h-2.45zM428.07 763.08h2.45v2.45h-2.45zM428.07 750.77h2.45v2.45h-2.45zM440.38 763.08h2.45v2.45h-2.45zM440.38 750.77h2.45v2.45h-2.45zM292.47 800.18h2.45v2.45h-2.45zM292.47 787.68h2.45v2.45h-2.45zM292.47 775.38h2.45v2.45h-2.45zM305.38 810.58h2.45v2.45h-2.45zM305.38 775.77h2.45v2.45h-2.45zM440.27 312.67h2.45v2.45h-2.45zM477.27 312.67h2.45v2.45h-2.45zM514.38 312.67h2.45v2.45h-2.45zM551.38 312.67h2.45v2.45h-2.45zM602.27 312.67h2.45v2.45h-2.45zM606.17 312.67h2.45v2.45h-2.45zM605.77 230.78h2.45v2.45h-2.45zM643.27 230.78h2.45v2.45h-2.45zM679.77 230.78h2.45v2.45h-2.45zM713.77 230.78h2.45v2.45h-2.45zM718.27 230.78h2.45v2.45h-2.45zM605.77 271.77h2.45v2.45h-2.45zM720.77 271.77h2.45v2.45h-2.45zM716.77 271.77h2.45v2.45h-2.45zM440.27 341.77h2.45v2.45h-2.45zM440.27 354.27h2.45v2.45h-2.45zM440.27 395.07h2.45v2.45h-2.45zM440.27 436.17h2.45v2.45h-2.45zM440.27 461.77h2.45v2.45h-2.45zM440.27 485.47h2.45v2.45h-2.45zM436.77 354.27h2.45v2.45h-2.45zM457.17 502.07h2.45v2.45h-2.45zM457.17 519.17h2.45v2.45h-2.45zM457.17 534.67h2.45v2.45h-2.45zM457.17 575.77h2.45v2.45h-2.45zM457.17 590.77h2.45v2.45h-2.45zM457.17 608.77h2.45v2.45h-2.45zM457.17 625.17h2.45v2.45h-2.45zM457.17 633.27h2.45v2.45h-2.45zM457.17 485.17h2.45v2.45h-2.45zM440.47 502.07h2.45v2.45h-2.45zM440.47 519.17h2.45v2.45h-2.45zM440.47 534.67h2.45v2.45h-2.45zM440.47 575.77h2.45v2.45h-2.45zM440.47 590.77h2.45v2.45h-2.45zM440.47 608.77h2.45v2.45h-2.45zM440.47 625.17h2.45v2.45h-2.45zM298.27 502.52h2.45v2.45h-2.45zM298.27 608.77h2.45v2.45h-2.45zM314.77 502.52h2.45v2.45h-2.45zM314.77 608.77h2.45v2.45h-2.45zM328.02 502.52h2.45v2.45h-2.45zM328.02 608.77h2.45v2.45h-2.45zM355.02 502.52h2.45v2.45h-2.45zM355.02 608.77h2.45v2.45h-2.45zM382.52 502.52h2.45v2.45h-2.45zM382.52 608.77h2.45v2.45h-2.45zM410.77 502.52h2.45v2.45h-2.45zM410.77 608.77h2.45v2.45h-2.45zM439.52 502.52h2.45v2.45h-2.45zM439.52 608.77h2.45v2.45h-2.45zM314.77 518.77h2.45v2.45h-2.45zM314.77 591.77h2.45v2.45h-2.45zM328.02 518.77h2.45v2.45h-2.45zM328.02 591.77h2.45v2.45h-2.45zM355.02 518.77h2.45v2.45h-2.45zM355.02 591.77h2.45v2.45h-2.45zM382.52 518.77h2.45v2.45h-2.45zM382.52 591.77h2.45v2.45h-2.45zM410.77 518.77h2.45v2.45h-2.45zM410.77 591.77h2.45v2.45h-2.45zM439.52 518.77h2.45v2.45h-2.45zM439.52 591.77h2.45v2.45h-2.45zM298.27 518.77h2.45v2.45h-2.45zM298.27 535.02h2.45v2.45h-2.45zM298.27 576.27h2.45v2.45h-2.45zM298.27 591.77h2.45v2.45h-2.45zM314.77 535.02h2.45v2.45h-2.45zM440.47 535.02h2.45v2.45h-2.45zM314.77 576.27h2.45v2.45h-2.45zM440.47 576.27h2.45v2.45h-2.45zM189.78 541.77h2.45v2.45h-2.45zM189.78 568.77h2.45v2.45h-2.45zM219.28 541.77h2.45v2.45h-2.45zM219.28 568.77h2.45v2.45h-2.45zM256.27 541.77h2.45v2.45h-2.45zM256.27 568.77h2.45v2.45h-2.45zM284.27 546.27h2.45v2.45h-2.45zM284.27 564.52h2.45v2.45h-2.45zM456.77 633.27h2.45v2.45h-2.45zM482.52 633.27h2.45v2.45h-2.45zM520.02 633.27h2.45v2.45h-2.45zM547.52 633.27h2.45v2.45h-2.45zM574.52 633.27h2.45v2.45h-2.45zM602.02 633.27h2.45v2.45h-2.45zM639.52 633.27h2.45v2.45h-2.45zM643.77 633.27h2.45v2.45h-2.45zM656.27 633.27h2.45v2.45h-2.45zM670.02 633.27h2.45v2.45h-2.45zM681.77 633.27h2.45v2.45h-2.45zM453.77 652.52h2.45v2.45h-2.45zM482.52 652.52h2.45v2.45h-2.45zM520.02 652.52h2.45v2.45h-2.45zM547.52 652.52h2.45v2.45h-2.45zM574.52 652.52h2.45v2.45h-2.45zM602.02 652.52h2.45v2.45h-2.45zM641.27 652.52h2.45v2.45h-2.45zM668.77 652.52h2.45v2.45h-2.45zM681.77 666.27h2.45v2.45h-2.45zM681.77 678.77h2.45v2.45h-2.45zM681.77 689.77h2.45v2.45h-2.45zM681.77 702.52h2.45v2.45h-2.45zM681.77 714.77h2.45v2.45h-2.45zM681.77 727.52h2.45v2.45h-2.45zM668.77 678.77h2.45v2.45h-2.45zM668.77 689.77h2.45v2.45h-2.45zM668.77 702.52h2.45v2.45h-2.45zM668.77 714.77h2.45v2.45h-2.45zM668.77 727.52h2.45v2.45h-2.45zM668.77 739.77h2.45v2.45h-2.45zM681.77 739.77h2.45v2.45h-2.45zM693.77 739.77h2.45v2.45h-2.45zM705.77 739.77h2.45v2.45h-2.45zM717.77 739.77h2.45v2.45h-2.45zM729.77 739.77h2.45v2.45h-2.45zM739.77 739.77h2.45v2.45h-2.45zM693.77 727.52h2.45v2.45h-2.45zM705.77 727.52h2.45v2.45h-2.45zM717.77 727.52h2.45v2.45h-2.45zM729.77 727.52h2.45v2.45h-2.45zM440.02 649.77h2.45v2.45h-2.45zM440.02 664.77h2.45v2.45h-2.45zM440.02 678.77h2.45v2.45h-2.45zM440.02 689.77h2.45v2.45h-2.45zM440.02 702.52h2.45v2.45h-2.45zM440.02 714.77h2.45v2.45h-2.45zM440.02 727.52h2.45v2.45h-2.45zM440.02 739.77h2.45v2.45h-2.45zM440.02 751.27h2.45v2.45h-2.45zM440.02 763.77h2.45v2.45h-2.45zM453.02 664.77h2.45v2.45h-2.45zM453.02 678.77h2.45v2.45h-2.45zM453.02 689.77h2.45v2.45h-2.45zM453.02 702.52h2.45v2.45h-2.45zM453.02 714.77h2.45v2.45h-2.45zM453.02 727.52h2.45v2.45h-2.45zM453.02 739.77h2.45v2.45h-2.45zM453.02 751.27h2.45v2.45h-2.45z"/>
<g>
<rect class="k" x="145" y="95" width="43" height="3"/>
<path class="t" d="M140.5 97L140.5 241"/>
<path class="t2" d="M147 97L147 241"/>
<path class="w" d="M147 117L185 117"/>
<path class="w" d="M147 137.5L185 137.5"/>
<path class="w" d="M147 158L185 158"/>
<path class="w" d="M147 179L185 179"/>
<path class="w" d="M147 199.5L185 199.5"/>
<path class="w" d="M147 220L185 220"/>
<rect class="pier" x="137.5" y="115.7" width="9" height="2.6"/>
<rect class="pier" x="137.5" y="136.2" width="9" height="2.6"/>
<rect class="pier" x="137.5" y="156.7" width="9" height="2.6"/>
<rect class="pier" x="137.5" y="177.7" width="9" height="2.6"/>
<rect class="pier" x="137.5" y="198.2" width="9" height="2.6"/>
<rect class="pier" x="137.5" y="218.7" width="9" height="2.6"/>
<rect class="pier" x="137.5" y="239.5" width="9" height="2.6"/>
<rect class="k" x="137.5" y="240" width="47.5" height="2.6"/>
<path class="t2" d="M186 98L186 241"/>
<rect class="cab" x="184" y="105" width="4.5" height="24"/>
<rect class="cab" x="184" y="146" width="4.5" height="24"/>
<rect class="cab" x="184" y="187.5" width="4.5" height="23.5"/>
<rect class="cab" x="184" y="229" width="4.5" height="11"/>
<path class="k" d="M168.7 95.7h2.6v2.6h-2.6zM168.7 136.7h2.6v2.6h-2.6zM168.7 177.7h2.6v2.6h-2.6zM168.7 218.7h2.6v2.6h-2.6zM168.7 239.7h2.6v2.6h-2.6zM196.2 95.7h2.6v2.6h-2.6zM196.2 136.7h2.6v2.6h-2.6zM196.2 177.7h2.6v2.6h-2.6zM196.2 218.7h2.6v2.6h-2.6zM196.2 242.2h2.6v2.6h-2.6zM144.7 95.7h2.6v2.6h-2.6z"/>
<path class="w" d="M197.7 97L197.7 149"/>
<path class="t" d="M188 96.5L198 96.5"/>
<path class="t2" d="M204.9 139.3a1.1 1.1 0 1 0 2.2 0a1.1 1.1 0 1 0 -2.2 0M207.5 139.3a1.1 1.1 0 1 0 2.2 0a1.1 1.1 0 1 0 -2.2 0M210.1 139.3a1.1 1.1 0 1 0 2.2 0a1.1 1.1 0 1 0 -2.2 0"/>
<path class="t2" d="M177.9 255a1.1 1.1 0 1 0 2.2 0a1.1 1.1 0 1 0 -2.2 0M177.9 257.6a1.1 1.1 0 1 0 2.2 0a1.1 1.1 0 1 0 -2.2 0M177.9 260.2a1.1 1.1 0 1 0 2.2 0a1.1 1.1 0 1 0 -2.2 0"/>
<path class="t2" d="M199.4 253a1.1 1.1 0 1 0 2.2 0a1.1 1.1 0 1 0 -2.2 0M199.4 255.6a1.1 1.1 0 1 0 2.2 0a1.1 1.1 0 1 0 -2.2 0M199.4 258.2a1.1 1.1 0 1 0 2.2 0a1.1 1.1 0 1 0 -2.2 0"/>
<path class="t2" d="M323.4 170a1.1 1.1 0 1 0 2.2 0a1.1 1.1 0 1 0 -2.2 0M323.4 172.6a1.1 1.1 0 1 0 2.2 0a1.1 1.1 0 1 0 -2.2 0M323.4 175.2a1.1 1.1 0 1 0 2.2 0a1.1 1.1 0 1 0 -2.2 0"/>
<path class="t2" d="M182.8 133.5A3.2 3.2 0 0 1 189.2 133.5"/>
<path class="t2" d="M182.8 174.5A3.2 3.2 0 0 1 189.2 174.5"/>
<path class="t2" d="M182.8 215.5A3.2 3.2 0 0 1 189.2 215.5"/>
<path class="t" d="M198.5 135.5L221 135.5"/>
<path class="t" d="M174.5 242.5L174.5 266"/>
<path class="t" d="M186 242.5L186 250"/>
<path class="t" d="M222 100.2L307 100.2"/>
<path class="t" d="M222 106.5L307 106.5"/>
<rect class="pier" x="222.6" y="98" width="2.8" height="8.2"/>
<rect class="pier" x="243.1" y="98" width="2.8" height="8.2"/>
<rect class="pier" x="263.6" y="98" width="2.8" height="8.2"/>
<rect class="pier" x="284.6" y="98" width="2.8" height="8.2"/>
<rect class="pier" x="304.1" y="98" width="2.8" height="8.2"/>
<path class="w" d="M244.5 106L244.5 146"/>
<path class="w" d="M265 106L265 146"/>
<path class="w" d="M286 106L286 146"/>
<rect class="k" x="221.75" y="107.5" width="2.85" height="40.5"/>
<path class="w" d="M305.75 106L305.75 147"/>
<rect class="cab" x="231" y="144.8" width="25" height="3.2"/>
<rect class="cab" x="274" y="144.8" width="25" height="3.2"/>
<path class="t2" d="M224 146.5L306 146.5"/>
<path class="t" d="M219 157.6L307 157.6"/>
<path class="k" d="M218.7 156.5h2.6v2.6h-2.6zM223.3 156.5h2.6v2.6h-2.6zM263.7 156.5h2.6v2.6h-2.6zM305 156.5h2.6v2.6h-2.6zM223.3 129.2h2.6v2.6h-2.6zM263.7 129.2h2.6v2.6h-2.6zM305 129.2h2.6v2.6h-2.6zM223.3 107h2.6v2.6h-2.6zM263.7 107h2.6v2.6h-2.6zM305 107h2.6v2.6h-2.6zM218.7 134.5h2.6v2.6h-2.6z"/>
<rect class="k" x="319" y="98" width="37.5" height="2.6"/>
<path class="w" d="M319 99L319 159"/>
<path class="w" d="M357.5 99L357.5 159"/>
<path class="w" d="M319 159L357.5 159"/>
<rect class="t2" x="357.5" y="100" width="8.5" height="49"/>
<rect class="cab" x="319" y="126" width="3.6" height="14"/>
<rect class="cab" x="319" y="147" width="3.6" height="8.5"/>
<path class="k" d="M332.2 106.7h2.6v2.6h-2.6zM353.7 106.7h2.6v2.6h-2.6zM332.2 129.45h2.6v2.6h-2.6zM353.7 129.45h2.6v2.6h-2.6zM332.2 156.3h2.6v2.6h-2.6zM353.7 156.3h2.6v2.6h-2.6zM318.2 106.2h2.6v2.6h-2.6z"/>
<path class="w" d="M330 126.8L355 126.8"/>
<path class="t2" d="M306 106L319 106"/>
<path class="t" d="M328.4 159L328.4 182"/>
<rect class="k" x="318.75" y="182" width="46.75" height="2.6"/>
<path class="w" d="M320 204.25L357.5 204.25"/>
<path class="w" d="M320 225L357.5 225"/>
<path class="w" d="M320 245.5L357.5 245.5"/>
<rect class="pier" x="357" y="183.2" width="9" height="2.6"/>
<rect class="pier" x="357" y="202.95" width="9" height="2.6"/>
<rect class="pier" x="357" y="223.7" width="9" height="2.6"/>
<rect class="pier" x="357" y="244.2" width="9" height="2.6"/>
<rect class="pier" x="357" y="264.7" width="9" height="2.6"/>
<path class="t" d="M357.5 184L357.5 266"/>
<path class="t2" d="M364.5 184L364.5 266"/>
<rect class="cab" x="316" y="192.5" width="3.6" height="23.5"/>
<rect class="cab" x="316" y="234" width="3.6" height="23.5"/>
<path class="t2" d="M318 184L318 266"/>
<path class="w" d="M318 266L366 266"/>
<path class="w" d="M306.2 157.5L306.2 266"/>
<path class="k" d="M304.9 178.7h2.6v2.6h-2.6zM304.9 223.7h2.6v2.6h-2.6zM304.9 265.7h2.6v2.6h-2.6zM331.2 182.7h2.6v2.6h-2.6zM331.2 223.7h2.6v2.6h-2.6zM331.2 264.7h2.6v2.6h-2.6zM317.7 178.7h2.6v2.6h-2.6z"/>
<rect class="cy" x="198.2" y="159.2" width="107.6" height="106.4"/>
<path class="w" d="M130 267L186 267"/>
<path class="w" d="M197.5 267L306 267"/>
<rect class="k" x="127.5" y="276" width="3.5" height="43"/>
<rect class="t2" x="122.5" y="284" width="5.5" height="31"/>
<rect class="cab" x="138.75" y="276.4" width="23.75" height="3.2"/>
<rect class="cab" x="180" y="276.4" width="23.75" height="3.2"/>
<rect class="cab" x="220" y="276.4" width="12.5" height="3.2"/>
<path class="t2" d="M131 278L232.5 278"/>
<path class="w" d="M151 279L151 319"/>
<path class="w" d="M171.25 279L171.25 319"/>
<path class="w" d="M192 279L192 319"/>
<path class="w" d="M212.5 279L212.5 319"/>
<path class="w" d="M232.5 279L232.5 319"/>
<rect class="pier" x="149.6" y="317.5" width="2.8" height="8.5"/>
<rect class="pier" x="169.85" y="317.5" width="2.8" height="8.5"/>
<rect class="pier" x="190.6" y="317.5" width="2.8" height="8.5"/>
<rect class="pier" x="211.1" y="317.5" width="2.8" height="8.5"/>
<path class="t" d="M131 319L232.5 319"/>
<path class="t" d="M131 325L232.5 325"/>
<path class="t" d="M131 267L131 276"/>
<path class="t" d="M131 319L131 325"/>
<path class="w" d="M232.5 277.5L247.3 277.5L247.3 326L232.5 326L232.5 319"/>
<path class="w" d="M232.5 319L247.3 319"/>
<rect class="cab" x="240" y="278.75" width="7" height="11.25"/>
<rect class="k" x="245.7" y="277.5" width="2.1" height="48.5"/>
<path class="k" d="M129.95 265.7h2.6v2.6h-2.6zM169.95 265.7h2.6v2.6h-2.6zM211.2 265.7h2.6v2.6h-2.6zM129.95 292.45h2.6v2.6h-2.6zM169.95 292.45h2.6v2.6h-2.6zM211.2 292.45h2.6v2.6h-2.6zM129.95 316.7h2.6v2.6h-2.6zM169.7 316.7h2.6v2.6h-2.6zM211.2 316.7h2.6v2.6h-2.6zM231.2 292.45h2.6v2.6h-2.6zM244.7 316.7h2.6v2.6h-2.6zM243.7 265.7h2.6v2.6h-2.6zM278.7 265.7h2.6v2.6h-2.6z"/>
<path class="w" d="M248.5 279L280 279L280 295L293 295"/>
<path class="w" d="M306.2 278.5L306.2 295.6"/>
<path class="k" d="M247.7 277.7h2.6v2.6h-2.6zM278.7 293.7h2.6v2.6h-2.6zM304.9 277.7h2.6v2.6h-2.6zM304.9 293.7h2.6v2.6h-2.6zM243.7 270.7h2.6v2.6h-2.6z"/>
<path class="w2" d="M317.5 282.2L365.8 282.2L365.8 331L316 331"/>
<path class="w2" d="M317.5 278.5L317.5 296"/>
<path class="t" d="M306.9 296.5L306.9 341"/>
<rect class="w2" x="318.3" y="283" width="12" height="12.4"/>
<path class="t" d="M318.3 283L330.3 295.4M330.3 283L318.3 295.4"/>
<rect class="w2" x="331.6" y="283" width="12.1" height="12.4"/>
<path class="t" d="M331.6 283L343.7 295.4M343.7 283L331.6 295.4"/>
<path class="w" d="M345.3 266.7L345.3 295.6"/>
<path class="w" d="M317.5 295.6L356 295.6"/>
<path class="w" d="M355.5 282.2L355.5 300"/>
<rect class="w2" x="317.8" y="303.5" width="12.7" height="12.3"/>
<path class="t" d="M317.8 303.5L330.5 315.8M330.5 303.5L317.8 315.8"/>
<rect class="cab2" x="343.6" y="302.2" width="21.6" height="4.4"/>
<path class="w" d="M356 311.4L356 330"/>
<path class="t2" d="M353.8 311.4L353.8 330"/>
<path class="w" d="M339 316.5L339 330"/>
<path class="t" d="M348.5 316.5L348.5 330"/>
<path class="w" d="M317.5 316.3L339 316.3"/>
<path class="t" d="M318 317.2A6 6.4 0 0 0 318 330"/>
<path class="w" d="M317.5 318.6L337.5 318.6"/>
<path class="w" d="M317.5 321.6L337.5 321.6"/>
<path class="w" d="M317.5 324.6L337.5 324.6"/>
<path class="w" d="M317.5 327.6L337.5 327.6"/>
<path class="t2" d="M321 317L321 330"/>
<path class="t2" d="M324.5 317L324.5 330"/>
<path class="t2" d="M328 317L328 330"/>
<path class="t2" d="M331.5 317L331.5 330"/>
<path class="t2" d="M335 317L335 330"/>
<rect class="k" x="315.5" y="330.3" width="50.7" height="2.5"/>
<path class="k" d="M344 293.9h2.6v2.6h-2.6zM354.7 293.9h2.6v2.6h-2.6zM344 328.2h2.6v2.6h-2.6zM354.7 328.2h2.6v2.6h-2.6zM305.6 328.7h2.6v2.6h-2.6z"/>
<path class="t" d="M306.9 330L316 330"/>
</g>
<g transform="translate(0,1107.2) scale(1,-1)">
<rect class="k" x="145" y="95" width="43" height="3"/>
<path class="t" d="M140.5 97L140.5 241"/>
<path class="t2" d="M147 97L147 241"/>
<path class="w" d="M147 117L185 117"/>
<path class="w" d="M147 137.5L185 137.5"/>
<path class="w" d="M147 158L185 158"/>
<path class="w" d="M147 179L185 179"/>
<path class="w" d="M147 199.5L185 199.5"/>
<path class="w" d="M147 220L185 220"/>
<rect class="pier" x="137.5" y="115.7" width="9" height="2.6"/>
<rect class="pier" x="137.5" y="136.2" width="9" height="2.6"/>
<rect class="pier" x="137.5" y="156.7" width="9" height="2.6"/>
<rect class="pier" x="137.5" y="177.7" width="9" height="2.6"/>
<rect class="pier" x="137.5" y="198.2" width="9" height="2.6"/>
<rect class="pier" x="137.5" y="218.7" width="9" height="2.6"/>
<rect class="pier" x="137.5" y="239.5" width="9" height="2.6"/>
<rect class="k" x="137.5" y="240" width="47.5" height="2.6"/>
<path class="t2" d="M186 98L186 241"/>
<rect class="cab" x="184" y="105" width="4.5" height="24"/>
<rect class="cab" x="184" y="146" width="4.5" height="24"/>
<rect class="cab" x="184" y="187.5" width="4.5" height="23.5"/>
<rect class="cab" x="184" y="229" width="4.5" height="11"/>
<path class="k" d="M168.7 95.7h2.6v2.6h-2.6zM168.7 136.7h2.6v2.6h-2.6zM168.7 177.7h2.6v2.6h-2.6zM168.7 218.7h2.6v2.6h-2.6zM168.7 239.7h2.6v2.6h-2.6zM196.2 95.7h2.6v2.6h-2.6zM196.2 136.7h2.6v2.6h-2.6zM196.2 177.7h2.6v2.6h-2.6zM196.2 218.7h2.6v2.6h-2.6zM196.2 242.2h2.6v2.6h-2.6zM144.7 95.7h2.6v2.6h-2.6z"/>
<path class="w" d="M197.7 97L197.7 149"/>
<path class="t" d="M188 96.5L198 96.5"/>
<path class="t2" d="M204.9 139.3a1.1 1.1 0 1 0 2.2 0a1.1 1.1 0 1 0 -2.2 0M207.5 139.3a1.1 1.1 0 1 0 2.2 0a1.1 1.1 0 1 0 -2.2 0M210.1 139.3a1.1 1.1 0 1 0 2.2 0a1.1 1.1 0 1 0 -2.2 0"/>
<path class="t2" d="M177.9 255a1.1 1.1 0 1 0 2.2 0a1.1 1.1 0 1 0 -2.2 0M177.9 257.6a1.1 1.1 0 1 0 2.2 0a1.1 1.1 0 1 0 -2.2 0M177.9 260.2a1.1 1.1 0 1 0 2.2 0a1.1 1.1 0 1 0 -2.2 0"/>
<path class="t2" d="M199.4 253a1.1 1.1 0 1 0 2.2 0a1.1 1.1 0 1 0 -2.2 0M199.4 255.6a1.1 1.1 0 1 0 2.2 0a1.1 1.1 0 1 0 -2.2 0M199.4 258.2a1.1 1.1 0 1 0 2.2 0a1.1 1.1 0 1 0 -2.2 0"/>
<path class="t2" d="M323.4 170a1.1 1.1 0 1 0 2.2 0a1.1 1.1 0 1 0 -2.2 0M323.4 172.6a1.1 1.1 0 1 0 2.2 0a1.1 1.1 0 1 0 -2.2 0M323.4 175.2a1.1 1.1 0 1 0 2.2 0a1.1 1.1 0 1 0 -2.2 0"/>
<path class="t2" d="M182.8 133.5A3.2 3.2 0 0 1 189.2 133.5"/>
<path class="t2" d="M182.8 174.5A3.2 3.2 0 0 1 189.2 174.5"/>
<path class="t2" d="M182.8 215.5A3.2 3.2 0 0 1 189.2 215.5"/>
<path class="t" d="M198.5 135.5L221 135.5"/>
<path class="t" d="M174.5 242.5L174.5 266"/>
<path class="t" d="M186 242.5L186 250"/>
<path class="t" d="M222 100.2L307 100.2"/>
<path class="t" d="M222 106.5L307 106.5"/>
<rect class="pier" x="222.6" y="98" width="2.8" height="8.2"/>
<rect class="pier" x="243.1" y="98" width="2.8" height="8.2"/>
<rect class="pier" x="263.6" y="98" width="2.8" height="8.2"/>
<rect class="pier" x="284.6" y="98" width="2.8" height="8.2"/>
<rect class="pier" x="304.1" y="98" width="2.8" height="8.2"/>
<path class="w" d="M244.5 106L244.5 146"/>
<path class="w" d="M265 106L265 146"/>
<path class="w" d="M286 106L286 146"/>
<rect class="k" x="221.75" y="107.5" width="2.85" height="40.5"/>
<path class="w" d="M305.75 106L305.75 147"/>
<rect class="cab" x="231" y="144.8" width="25" height="3.2"/>
<rect class="cab" x="274" y="144.8" width="25" height="3.2"/>
<path class="t2" d="M224 146.5L306 146.5"/>
<path class="t" d="M219 157.6L307 157.6"/>
<path class="k" d="M218.7 156.5h2.6v2.6h-2.6zM223.3 156.5h2.6v2.6h-2.6zM263.7 156.5h2.6v2.6h-2.6zM305 156.5h2.6v2.6h-2.6zM223.3 129.2h2.6v2.6h-2.6zM263.7 129.2h2.6v2.6h-2.6zM305 129.2h2.6v2.6h-2.6zM223.3 107h2.6v2.6h-2.6zM263.7 107h2.6v2.6h-2.6zM305 107h2.6v2.6h-2.6zM218.7 134.5h2.6v2.6h-2.6z"/>
<rect class="k" x="319" y="98" width="37.5" height="2.6"/>
<path class="w" d="M319 99L319 159"/>
<path class="w" d="M357.5 99L357.5 159"/>
<path class="w" d="M319 159L357.5 159"/>
<rect class="t2" x="357.5" y="100" width="8.5" height="49"/>
<rect class="cab" x="319" y="126" width="3.6" height="14"/>
<rect class="cab" x="319" y="147" width="3.6" height="8.5"/>
<path class="k" d="M332.2 106.7h2.6v2.6h-2.6zM353.7 106.7h2.6v2.6h-2.6zM332.2 129.45h2.6v2.6h-2.6zM353.7 129.45h2.6v2.6h-2.6zM332.2 156.3h2.6v2.6h-2.6zM353.7 156.3h2.6v2.6h-2.6zM318.2 106.2h2.6v2.6h-2.6z"/>
<path class="w" d="M330 126.8L355 126.8"/>
<path class="t2" d="M306 106L319 106"/>
<path class="t" d="M328.4 159L328.4 182"/>
<rect class="k" x="318.75" y="182" width="46.75" height="2.6"/>
<path class="w" d="M320 204.25L357.5 204.25"/>
<path class="w" d="M320 225L357.5 225"/>
<path class="w" d="M320 245.5L357.5 245.5"/>
<rect class="pier" x="357" y="183.2" width="9" height="2.6"/>
<rect class="pier" x="357" y="202.95" width="9" height="2.6"/>
<rect class="pier" x="357" y="223.7" width="9" height="2.6"/>
<rect class="pier" x="357" y="244.2" width="9" height="2.6"/>
<rect class="pier" x="357" y="264.7" width="9" height="2.6"/>
<path class="t" d="M357.5 184L357.5 266"/>
<path class="t2" d="M364.5 184L364.5 266"/>
<rect class="cab" x="316" y="192.5" width="3.6" height="23.5"/>
<rect class="cab" x="316" y="234" width="3.6" height="23.5"/>
<path class="t2" d="M318 184L318 266"/>
<path class="w" d="M318 266L366 266"/>
<path class="w" d="M306.2 157.5L306.2 266"/>
<path class="k" d="M304.9 178.7h2.6v2.6h-2.6zM304.9 223.7h2.6v2.6h-2.6zM304.9 265.7h2.6v2.6h-2.6zM331.2 182.7h2.6v2.6h-2.6zM331.2 223.7h2.6v2.6h-2.6zM331.2 264.7h2.6v2.6h-2.6zM317.7 178.7h2.6v2.6h-2.6z"/>
<rect class="cy" x="198.2" y="159.2" width="107.6" height="106.4"/>
<path class="w" d="M130 267L186 267"/>
<path class="w" d="M197.5 267L306 267"/>
<rect class="k" x="127.5" y="276" width="3.5" height="43"/>
<rect class="t2" x="122.5" y="284" width="5.5" height="31"/>
<rect class="cab" x="138.75" y="276.4" width="23.75" height="3.2"/>
<rect class="cab" x="180" y="276.4" width="23.75" height="3.2"/>
<rect class="cab" x="220" y="276.4" width="12.5" height="3.2"/>
<path class="t2" d="M131 278L232.5 278"/>
<path class="w" d="M151 279L151 319"/>
<path class="w" d="M171.25 279L171.25 319"/>
<path class="w" d="M192 279L192 319"/>
<path class="w" d="M212.5 279L212.5 319"/>
<path class="w" d="M232.5 279L232.5 319"/>
<rect class="pier" x="149.6" y="317.5" width="2.8" height="8.5"/>
<rect class="pier" x="169.85" y="317.5" width="2.8" height="8.5"/>
<rect class="pier" x="190.6" y="317.5" width="2.8" height="8.5"/>
<rect class="pier" x="211.1" y="317.5" width="2.8" height="8.5"/>
<path class="t" d="M131 319L232.5 319"/>
<path class="t" d="M131 325L232.5 325"/>
<path class="t" d="M131 267L131 276"/>
<path class="t" d="M131 319L131 325"/>
<path class="w" d="M232.5 277.5L247.3 277.5L247.3 326L232.5 326L232.5 319"/>
<path class="w" d="M232.5 319L247.3 319"/>
<rect class="cab" x="240" y="278.75" width="7" height="11.25"/>
<rect class="k" x="245.7" y="277.5" width="2.1" height="48.5"/>
<path class="k" d="M129.95 265.7h2.6v2.6h-2.6zM169.95 265.7h2.6v2.6h-2.6zM211.2 265.7h2.6v2.6h-2.6zM129.95 292.45h2.6v2.6h-2.6zM169.95 292.45h2.6v2.6h-2.6zM211.2 292.45h2.6v2.6h-2.6zM129.95 316.7h2.6v2.6h-2.6zM169.7 316.7h2.6v2.6h-2.6zM211.2 316.7h2.6v2.6h-2.6zM231.2 292.45h2.6v2.6h-2.6zM244.7 316.7h2.6v2.6h-2.6zM243.7 265.7h2.6v2.6h-2.6zM278.7 265.7h2.6v2.6h-2.6z"/>
<path class="w" d="M248.5 279L280 279L280 295L293 295"/>
<path class="w" d="M306.2 278.5L306.2 295.6"/>
<path class="k" d="M247.7 277.7h2.6v2.6h-2.6zM278.7 293.7h2.6v2.6h-2.6zM304.9 277.7h2.6v2.6h-2.6zM304.9 293.7h2.6v2.6h-2.6zM243.7 270.7h2.6v2.6h-2.6z"/>
<path class="w2" d="M317.5 282.2L365.8 282.2L365.8 331L316 331"/>
<path class="w2" d="M317.5 278.5L317.5 296"/>
<path class="t" d="M306.9 296.5L306.9 341"/>
<rect class="w2" x="318.3" y="283" width="12" height="12.4"/>
<path class="t" d="M318.3 283L330.3 295.4M330.3 283L318.3 295.4"/>
<rect class="w2" x="331.6" y="283" width="12.1" height="12.4"/>
<path class="t" d="M331.6 283L343.7 295.4M343.7 283L331.6 295.4"/>
<path class="w" d="M345.3 266.7L345.3 295.6"/>
<path class="w" d="M317.5 295.6L356 295.6"/>
<path class="w" d="M355.5 282.2L355.5 300"/>
<rect class="w2" x="317.8" y="303.5" width="12.7" height="12.3"/>
<path class="t" d="M317.8 303.5L330.5 315.8M330.5 303.5L317.8 315.8"/>
<rect class="cab2" x="343.6" y="302.2" width="21.6" height="4.4"/>
<path class="w" d="M356 311.4L356 330"/>
<path class="t2" d="M353.8 311.4L353.8 330"/>
<path class="w" d="M339 316.5L339 330"/>
<path class="t" d="M348.5 316.5L348.5 330"/>
<path class="w" d="M317.5 316.3L339 316.3"/>
<path class="t" d="M318 317.2A6 6.4 0 0 0 318 330"/>
<path class="w" d="M317.5 318.6L337.5 318.6"/>
<path class="w" d="M317.5 321.6L337.5 321.6"/>
<path class="w" d="M317.5 324.6L337.5 324.6"/>
<path class="w" d="M317.5 327.6L337.5 327.6"/>
<path class="t2" d="M321 317L321 330"/>
<path class="t2" d="M324.5 317L324.5 330"/>
<path class="t2" d="M328 317L328 330"/>
<path class="t2" d="M331.5 317L331.5 330"/>
<path class="t2" d="M335 317L335 330"/>
<rect class="k" x="315.5" y="330.3" width="50.7" height="2.5"/>
<path class="k" d="M344 293.9h2.6v2.6h-2.6zM354.7 293.9h2.6v2.6h-2.6zM344 328.2h2.6v2.6h-2.6zM354.7 328.2h2.6v2.6h-2.6zM305.6 328.7h2.6v2.6h-2.6z"/>
<path class="t" d="M306.9 330L316 330"/>
</g>
<path class="t3" d="M198.5 159.25L296.25 170L305.5 265"/>
<path class="t3" d="M198 842.5L293.75 854.5L305.5 950"/>
<path class="w2" d="M705.4 719.2L705.4 668.3L754.8 668.3L754.8 717.1"/>
<path class="w" d="M704.6 668.3L704.6 719.2"/>
<path class="w2" d="M720.8 717.1L734.2 717.1"/>
<path class="w2" d="M741.25 717.1L759 717.1"/>
<path class="w2" d="M741.25 677.5L741.25 717.1"/>
<rect class="w2" x="741.6" y="690" width="13" height="13.4"/>
<path class="t" d="M741.6 690L754.6 703.4M754.6 690L741.6 703.4"/>
<rect class="w2" x="741.6" y="703.8" width="13" height="13.2"/>
<path class="t" d="M741.6 703.8L754.6 717M754.6 703.8L741.6 717"/>
<rect class="w2" x="720.8" y="704.2" width="13.4" height="12.8"/>
<path class="t" d="M720.8 704.2L734.2 717M734.2 704.2L720.8 717"/>
<path class="w2" d="M741.25 678.75L754.8 678.75"/>
<rect class="cab2" x="731.25" y="668.75" width="4.55" height="22.05"/>
<rect class="k" x="706.7" y="677.5" width="19.1" height="2.5"/>
<path class="w" d="M706 695.8L720.5 695.8"/>
<path class="w" d="M720.4 690L720.4 717"/>
<path class="w" d="M711 688L711 695.8"/>
<path class="w" d="M716 688L716 695.8"/>
<path class="t2" d="M706 688L720 688"/>
<path class="t" d="M706.9 696L706.9 715.5A6.5 6.3 0 0 0 719.9 715.5L719.9 696"/>
<path class="t3" d="M707.5 698.5L719.5 698.5"/>
<path class="t3" d="M707.5 701.3L719.5 701.3"/>
<path class="t3" d="M707.5 704.1L719.5 704.1"/>
<path class="t3" d="M707.5 706.9L719.5 706.9"/>
<path class="t3" d="M707.5 709.7L719.5 709.7"/>
<path class="t3" d="M707.5 712.5L719.5 712.5"/>
<path class="t3" d="M707.5 715.3L719.5 715.3"/>
<path class="w2" d="M713.4 700L713.4 714"/>
<path class="t" d="M755 690L770 690"/>
<path class="t" d="M705.4 719.2L705.4 728.3"/>
<path class="t" d="M771 669.5L854 669.5"/>
<path class="t" d="M771 676L854 676"/>
<rect class="pier" x="769.85" y="667.5" width="2.8" height="9.5"/>
<rect class="pier" x="789.85" y="667.5" width="2.8" height="9.5"/>
<rect class="pier" x="810.35" y="667.5" width="2.8" height="9.5"/>
<rect class="pier" x="831.1" y="667.5" width="2.8" height="9.5"/>
<rect class="pier" x="851.6" y="667.5" width="2.8" height="9.5"/>
<path class="w" d="M791.25 677L791.25 715"/>
<path class="w" d="M811.75 677L811.75 715"/>
<path class="w" d="M832.5 677L832.5 715"/>
<path class="w" d="M771.5 677L771.5 716"/>
<rect class="k" x="852.3" y="677.5" width="2.9" height="38.5"/>
<rect class="cab" x="778.75" y="714.8" width="23.75" height="3.2"/>
<rect class="cab" x="820" y="714.8" width="23.75" height="3.2"/>
<path class="t2" d="M772 716.5L853 716.5"/>
<path class="w" d="M706 728.3L759 728.3"/>
<path class="w" d="M767.5 727.8L885 727.8"/>
<path class="k" d="M769.7 726.2h2.6v2.6h-2.6zM810.45 726.2h2.6v2.6h-2.6zM851.7 726.2h2.6v2.6h-2.6zM855.7 726.2h2.6v2.6h-2.6zM770.2 698.7h2.6v2.6h-2.6zM810.45 698.7h2.6v2.6h-2.6zM851.7 698.7h2.6v2.6h-2.6zM741.2 726.2h2.6v2.6h-2.6zM706.2 726.2h2.6v2.6h-2.6z"/>
<rect class="cy" x="770.5" y="728" width="108.25" height="110"/>
<path class="t3" d="M770.5 728L869.5 740.5L878.75 837.5"/>
<rect class="k" x="888.75" y="654.4" width="42.75" height="2.6"/>
<path class="w" d="M892 677L930 677"/>
<path class="w" d="M892 697.5L930 697.5"/>
<path class="w" d="M892 718L930 718"/>
<path class="w" d="M892 738.75L930 738.75"/>
<path class="w" d="M892 759.25L930 759.25"/>
<path class="w" d="M892 780L930 780"/>
<path class="w" d="M892 800L930 800"/>
<rect class="pier" x="929" y="675.7" width="10" height="2.6"/>
<rect class="pier" x="929" y="696.2" width="10" height="2.6"/>
<rect class="pier" x="929" y="716.7" width="10" height="2.6"/>
<rect class="pier" x="929" y="737.45" width="10" height="2.6"/>
<rect class="pier" x="929" y="757.95" width="10" height="2.6"/>
<rect class="pier" x="929" y="778.7" width="10" height="2.6"/>
<path class="t" d="M929.6 656L929.6 813"/>
<path class="t2" d="M936.3 657.5L936.3 800"/>
<path class="t2" d="M938.2 657.5L938.2 800"/>
<path class="t2" d="M931 657.5L938.2 657.5"/>
<rect class="cab" x="888.75" y="662.5" width="3.85" height="26.25"/>
<rect class="cab" x="888.75" y="703.75" width="3.85" height="26.25"/>
<rect class="cab" x="888.75" y="745" width="3.85" height="26.25"/>
<rect class="cab" x="888.75" y="786.25" width="3.85" height="12.5"/>
<path class="t2" d="M890.5 656L890.5 813"/>
<path class="w2" d="M891 800L891 813.75L939.5 813.75L939.5 800"/>
<path class="t" d="M903 800L903 813.75"/>
<path class="w" d="M930.5 800L930.5 813.75"/>
<path class="w" d="M879.25 655L879.25 718"/>
<path class="t" d="M879.25 655L889 655"/>
<path class="k" d="M878.2 654.7h2.6v2.6h-2.6zM878.2 696.2h2.6v2.6h-2.6zM878.2 736.7h2.6v2.6h-2.6zM878.2 778.7h2.6v2.6h-2.6zM878.2 810.7h2.6v2.6h-2.6zM878.2 815.2h2.6v2.6h-2.6zM905.2 654.7h2.6v2.6h-2.6zM905.2 696.2h2.6v2.6h-2.6zM905.2 737.45h2.6v2.6h-2.6zM905.2 778.7h2.6v2.6h-2.6zM905.2 798.7h2.6v2.6h-2.6zM888.7 696.2h2.6v2.6h-2.6zM888.7 737.45h2.6v2.6h-2.6zM888.7 778.7h2.6v2.6h-2.6zM930.7 654.7h2.6v2.6h-2.6z"/>
<path class="t" d="M855 705L879 705"/>
<path class="t2" d="M860.9 709.3a1.1 1.1 0 1 0 2.2 0a1.1 1.1 0 1 0 -2.2 0M863.5 709.3a1.1 1.1 0 1 0 2.2 0a1.1 1.1 0 1 0 -2.2 0M866.1 709.3a1.1 1.1 0 1 0 2.2 0a1.1 1.1 0 1 0 -2.2 0"/>
<path class="t2" d="M894.4 822a1.1 1.1 0 1 0 2.2 0a1.1 1.1 0 1 0 -2.2 0M894.4 824.6a1.1 1.1 0 1 0 2.2 0a1.1 1.1 0 1 0 -2.2 0M894.4 827.2a1.1 1.1 0 1 0 2.2 0a1.1 1.1 0 1 0 -2.2 0"/>
<path class="t2" d="M775.9 865a1.1 1.1 0 1 0 2.2 0a1.1 1.1 0 1 0 -2.2 0M778.5 865a1.1 1.1 0 1 0 2.2 0a1.1 1.1 0 1 0 -2.2 0M781.1 865a1.1 1.1 0 1 0 2.2 0a1.1 1.1 0 1 0 -2.2 0"/>
<path class="t" d="M891 815L891 838"/>
<path class="t" d="M902.5 814L902.5 838"/>
<path class="k" d="M901.2 813.7h2.6v2.6h-2.6zM901.2 836.7h2.6v2.6h-2.6zM889.7 836.7h2.6v2.6h-2.6z"/>
<path class="w" d="M889 896L889 838L931.25 838L931.25 896"/>
<rect class="k" x="889" y="895.3" width="42.5" height="2.7"/>
<rect class="t2" x="931.25" y="847.5" width="8.75" height="47.5"/>
<path class="k" d="M905.2 864.7h2.6v2.6h-2.6zM926.7 864.7h2.6v2.6h-2.6zM905.2 886.7h2.6v2.6h-2.6zM926.7 886.7h2.6v2.6h-2.6zM905.2 838.7h2.6v2.6h-2.6zM926.7 838.7h2.6v2.6h-2.6z"/>
<path class="w" d="M903 869L928 869"/>
<rect class="cab" x="888.75" y="840" width="3.25" height="7"/>
<rect class="cab" x="888.75" y="857" width="3.25" height="13"/>
<rect class="cab" x="888.75" y="885" width="3.25" height="10"/>
<rect class="k" x="793.75" y="850" width="3.25" height="38"/>
<rect class="cab" x="802.5" y="848" width="26.25" height="3.3"/>
<rect class="cab" x="845" y="848" width="26.25" height="3.3"/>
<path class="t2" d="M797 849.5L877.5 849.5"/>
<path class="w" d="M816.75 851L816.75 889"/>
<path class="w" d="M837.5 851L837.5 889"/>
<path class="w" d="M858 851L858 889"/>
<rect class="pier" x="794.85" y="888.75" width="2.8" height="9.25"/>
<rect class="pier" x="815.35" y="888.75" width="2.8" height="9.25"/>
<rect class="pier" x="836.1" y="888.75" width="2.8" height="9.25"/>
<rect class="pier" x="856.6" y="888.75" width="2.8" height="9.25"/>
<rect class="pier" x="876.1" y="888.75" width="2.8" height="9.25"/>
<path class="t" d="M796 889.5L878 889.5"/>
<path class="t" d="M796 896.5L878 896.5"/>
<path class="w" d="M877.5 851L877.5 889"/>
<path class="k" d="M792.45 837.45h2.6v2.6h-2.6zM836.2 837.45h2.6v2.6h-2.6zM876.2 837.45h2.6v2.6h-2.6zM795.7 864.7h2.6v2.6h-2.6zM836.2 864.7h2.6v2.6h-2.6zM876.2 864.7h2.6v2.6h-2.6zM792.45 860.2h2.6v2.6h-2.6z"/>
<path class="t" d="M770.5 861.25L793.75 861.25"/>
<rect class="k" x="711.25" y="792.4" width="47.5" height="3"/>
<path class="w" d="M711.25 795L711.25 807.5L720 807.5"/>
<path class="t" d="M713 807.5L713 912"/>
<path class="t2" d="M719.5 795L719.5 912"/>
<path class="w" d="M720 807.5L757.5 807.5"/>
<path class="w" d="M720 827.5L757.5 827.5"/>
<path class="w" d="M720 848.25L757.5 848.25"/>
<path class="w" d="M720 869.25L757.5 869.25"/>
<path class="w" d="M720 890L757.5 890"/>
<rect class="pier" x="710.5" y="826.2" width="9.5" height="2.6"/>
<rect class="pier" x="710.5" y="846.95" width="9.5" height="2.6"/>
<rect class="pier" x="710.5" y="867.95" width="9.5" height="2.6"/>
<rect class="pier" x="710.5" y="888.7" width="9.5" height="2.6"/>
<rect class="cab" x="757" y="808" width="4.3" height="12"/>
<rect class="cab" x="757" y="836" width="4.3" height="24"/>
<rect class="cab" x="757" y="877.5" width="4.3" height="25"/>
<path class="t2" d="M759 795L759 912"/>
<rect class="k" x="720" y="910" width="41" height="2.5"/>
<path class="w" d="M770.5 848.75L770.5 866.25"/>
<path class="k" d="M769.2 791.7h2.6v2.6h-2.6zM769.2 795.7h2.6v2.6h-2.6zM769.2 819.7h2.6v2.6h-2.6zM769.2 867.7h2.6v2.6h-2.6zM769.2 908.7h2.6v2.6h-2.6zM741.7 792.7h2.6v2.6h-2.6zM741.7 806.2h2.6v2.6h-2.6zM741.7 846.7h2.6v2.6h-2.6zM741.7 888.7h2.6v2.6h-2.6zM741.7 909.7h2.6v2.6h-2.6zM757.7 792.7h2.6v2.6h-2.6z"/>
<path class="w" d="M742.5 727.5L742.5 753.75L758 753.75L758 793"/>
<path class="k" d="M741.2 752.45h2.6v2.6h-2.6zM756.7 752.45h2.6v2.6h-2.6zM756.7 791.7h2.6v2.6h-2.6z"/>
<path class="w" d="M770.5 728L770.5 740"/>
<g>
<path class="k" d="M1021.5 75.9L1035.8 40.7L1065.4 32.4Z"/>
<path class="t" d="M1065.4 32.4L1040.4 68.9L1021.5 75.9"/>
<path class="k" d="M1021.5 75.9L1040.4 68.9L1031 73.5Z"/>
<path class="t" d="M1021.5 66.5L1035.8 40.7"/>
<path class="t" d="M1035.8 40.7L1042.3 26.8"/>
<path class="t" d="M1044 28.7L1042.7 32.4"/>
<path class="t" d="M1015.81 66.33L1020.69 67.4L1025.6 66.42L1028.3 70.63L1032.47 73.41L1031.4 78.29L1032.38 83.2L1028.17 85.9L1025.39 90.07L1020.51 89L1015.6 89.98L1012.9 85.77L1008.73 82.99L1009.8 78.11L1008.82 73.2L1013.03 70.5Z"/>
<path class="k" d="M1021.5 75.9L1015.81 66.33L1020.69 67.4Z"/>
<path class="k" d="M1021.5 75.9L1025.6 66.42L1028.3 70.63Z"/>
<path class="k" d="M1021.5 75.9L1032.47 73.41L1031.4 78.29Z"/>
<path class="k" d="M1021.5 75.9L1032.38 83.2L1028.17 85.9Z"/>
<path class="k" d="M1021.5 75.9L1025.39 90.07L1020.51 89Z"/>
<path class="k" d="M1021.5 75.9L1015.6 89.98L1012.9 85.77Z"/>
<path class="k" d="M1021.5 75.9L1008.73 82.99L1009.8 78.11Z"/>
<path class="k" d="M1021.5 75.9L1008.82 73.2L1013.03 70.5Z"/>
<path d="M1040.9 22L1044.3 12.2L1046.9 22.9L1050.3 13.1" fill="none" stroke="#111" stroke-width="2.1" stroke-linejoin="miter"/>
</g>
</svg>
</body></html>
